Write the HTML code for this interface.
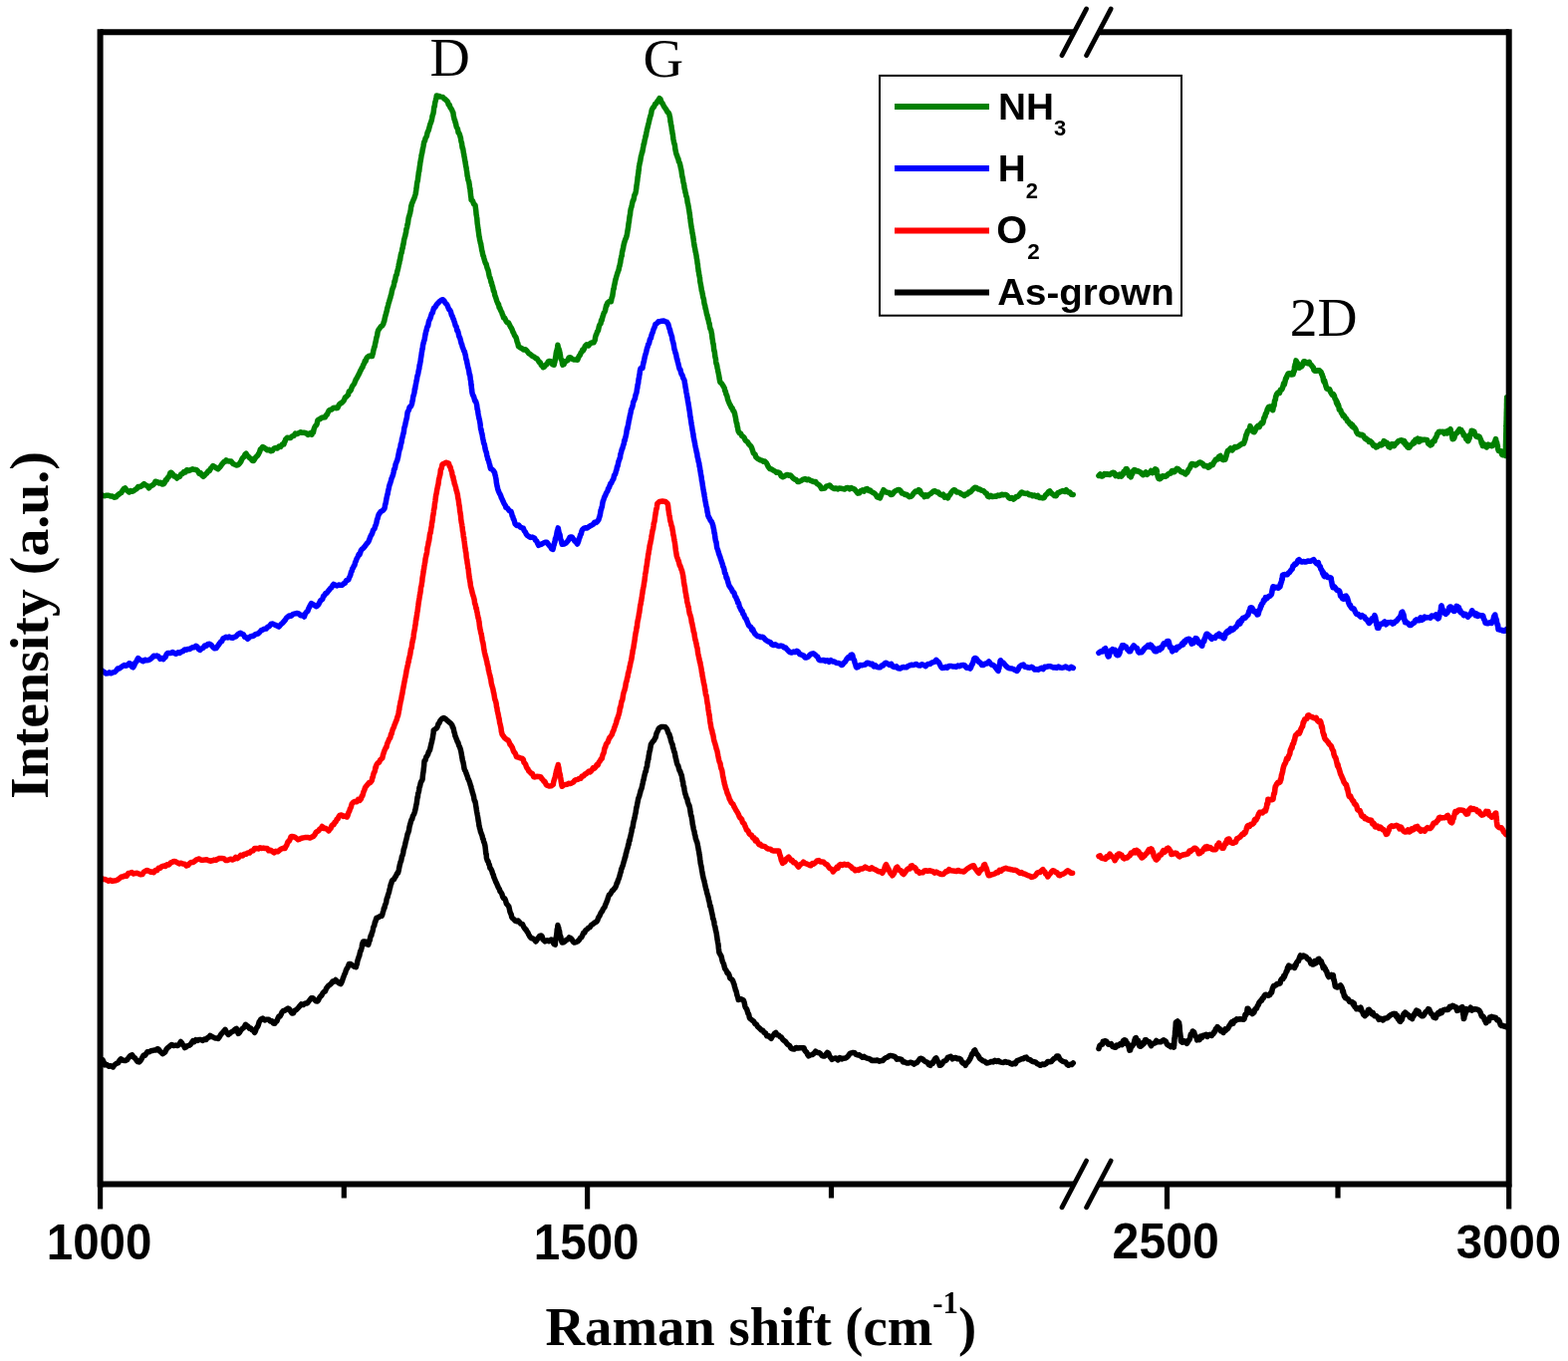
<!DOCTYPE html>
<html><head><meta charset="utf-8"><title>Raman spectra</title>
<style>html,body{margin:0;padding:0;background:#fff;}svg{display:block;}</style>
</head><body>
<svg width="1574" height="1366" viewBox="0 0 1574 1366"><rect width="1574" height="1366" fill="#ffffff"/><polyline points="101.6,496.5 103.5,497.6 105.3,497.7 107.2,497.2 109.0,497.2 110.9,498.0 112.8,498.1 114.6,499.2 116.5,498.9 117.8,497.2 119.1,496.2 120.4,495.2 121.7,494.6 123.0,492.4 124.3,490.6 125.6,489.8 127.0,491.8 128.3,492.9 129.7,494.0 131.2,492.6 132.7,493.2 134.2,492.6 135.7,491.4 137.1,490.7 138.6,488.6 140.1,488.7 141.6,488.2 143.1,486.9 144.6,485.7 146.2,487.0 147.9,487.6 149.5,489.8 150.8,488.3 152.1,487.4 153.5,486.7 154.8,485.5 156.1,483.2 157.8,483.6 159.4,485.0 161.1,484.2 162.7,485.9 164.4,485.7 165.3,484.4 166.2,481.8 167.2,481.9 168.1,479.7 169.0,479.2 170.0,477.4 170.9,474.5 171.8,474.2 173.2,475.6 174.7,477.9 176.2,478.0 177.6,480.0 179.0,478.4 180.4,478.4 181.8,475.8 183.3,475.4 184.7,473.5 186.1,473.9 187.5,471.7 189.5,472.4 191.5,471.6 193.4,470.8 195.4,471.3 197.4,471.7 198.7,473.0 200.0,475.3 201.4,474.8 202.7,477.1 204.0,478.3 205.2,477.4 206.5,475.7 207.7,474.9 208.9,473.0 210.2,472.6 211.4,470.4 212.7,469.0 213.9,467.5 215.6,468.5 217.2,469.9 218.9,470.8 220.1,469.3 221.2,468.4 222.4,466.5 223.6,465.0 224.8,463.7 225.9,463.3 227.1,461.8 228.8,462.8 230.4,463.1 232.1,463.0 233.7,465.2 235.4,466.1 237.0,466.9 238.7,466.7 239.7,466.0 240.8,464.7 241.8,463.3 242.8,461.0 243.9,459.3 244.9,458.5 246.0,456.1 247.0,455.2 248.2,457.1 249.5,458.4 250.7,459.8 251.9,460.3 253.2,462.4 254.4,462.6 255.4,461.2 256.4,459.4 257.4,458.3 258.4,457.4 259.5,455.7 260.5,453.8 261.5,450.7 262.5,450.3 263.5,448.5 265.1,449.3 266.8,450.5 268.4,451.8 270.1,451.3 271.7,452.7 273.4,452.4 275.0,450.2 276.7,449.6 278.4,450.0 280.0,448.1 281.7,448.4 283.3,446.0 285.0,446.0 285.5,443.6 286.1,443.2 286.6,441.1 288.3,439.3 289.9,439.6 291.6,439.5 293.2,437.9 294.9,437.4 296.5,435.1 298.2,435.6 299.8,434.8 301.5,433.7 303.4,434.3 305.3,434.3 307.2,434.7 309.2,436.4 311.1,434.8 313.0,436.2 313.7,433.5 314.5,433.9 315.2,430.5 315.9,428.8 316.7,427.3 317.4,426.9 318.1,425.6 318.9,421.9 319.6,421.3 321.3,420.5 323.0,419.2 324.6,418.9 326.3,418.8 327.3,416.7 328.3,416.2 329.2,414.0 330.2,412.2 331.2,411.4 332.9,411.0 334.5,409.5 336.1,409.2 337.8,409.7 339.0,409.3 340.3,406.2 341.5,405.1 342.8,404.5 344.0,403.3 345.2,402.0 346.5,398.9 347.7,398.2 348.6,397.1 349.5,396.2 350.4,392.7 351.4,392.5 352.3,391.3 353.2,388.7 354.1,387.0 355.0,386.0 355.8,384.6 356.6,382.6 357.5,380.4 358.3,379.4 359.1,377.6 359.9,376.3 360.8,374.5 361.6,372.4 362.4,371.2 363.2,369.3 363.9,368.8 364.7,366.0 365.5,365.1 366.3,362.3 367.1,362.4 367.8,359.9 368.6,358.7 370.3,357.3 371.9,357.4 373.6,357.5 374.0,355.2 374.4,355.0 374.8,352.0 375.3,350.1 375.7,348.5 376.1,348.0 376.5,345.6 376.9,343.8 377.3,342.3 377.7,339.9 378.1,338.2 378.6,337.0 379.0,333.8 379.4,332.5 379.8,331.4 381.1,329.5 382.3,327.7 383.6,327.0 384.8,325.1 385.2,323.2 385.7,322.6 386.1,320.2 386.6,318.2 387.0,316.5 387.4,315.4 387.9,313.1 388.3,312.0 388.8,309.0 389.2,308.2 389.7,306.1 390.1,304.2 390.5,303.3 391.0,301.5 391.4,300.0 391.9,298.7 392.3,296.5 392.8,295.6 393.2,293.1 393.7,290.9 394.1,289.6 394.6,288.6 395.1,287.1 395.5,285.2 396.0,282.1 396.5,282.2 396.9,279.7 397.4,276.7 397.9,276.4 398.3,275.3 398.8,272.3 399.2,271.2 399.7,269.1 400.1,267.0 400.4,265.0 400.8,264.4 401.2,261.0 401.6,261.1 401.9,258.7 402.3,256.0 402.7,254.3 403.1,253.8 403.4,252.5 403.8,249.5 404.2,249.3 404.6,245.6 404.9,245.5 405.3,242.8 405.7,240.3 406.1,239.0 406.4,237.7 406.8,236.7 407.2,234.3 407.6,233.3 407.9,230.0 408.3,229.1 408.7,227.6 409.0,225.2 409.4,224.6 409.8,221.5 410.1,219.2 410.5,217.5 410.8,217.1 411.2,215.1 411.6,214.2 411.9,212.4 412.3,210.6 412.7,206.9 413.0,206.7 413.4,204.4 414.0,203.2 414.7,201.4 415.3,199.9 415.9,198.7 416.6,196.5 417.2,194.5 417.5,192.5 417.7,191.2 418.0,188.7 418.2,187.9 418.5,184.9 418.7,183.5 419.0,182.2 419.3,181.5 419.5,179.6 419.8,177.1 420.0,176.0 420.3,173.0 420.6,171.6 420.8,171.7 421.1,168.5 421.3,167.0 421.6,165.6 421.8,163.4 422.1,162.1 422.4,160.2 422.8,157.9 423.1,155.7 423.5,154.2 423.8,153.1 424.2,150.3 424.5,149.2 424.9,147.3 425.2,145.6 425.6,143.1 425.9,142.2 426.5,141.4 427.1,138.7 427.7,137.8 428.4,136.4 429.0,133.3 429.6,131.9 430.2,130.7 430.8,128.5 431.3,126.6 431.8,124.6 432.2,123.9 432.7,122.5 433.2,120.9 433.7,118.5 434.1,116.2 434.6,114.8 434.9,114.1 435.3,111.7 435.6,108.7 435.9,107.0 436.3,106.8 436.6,103.6 437.0,101.8 437.3,100.9 437.6,99.5 438.0,97.6 438.3,96.0 440.4,96.4 442.4,97.1 444.5,97.4 445.8,99.0 447.0,99.7 448.2,100.9 449.5,102.4 450.3,105.1 451.2,105.2 452.0,108.0 452.8,108.9 453.7,110.4 454.5,112.4 454.9,113.1 455.3,116.5 455.7,117.8 456.1,119.9 456.6,120.6 457.0,122.7 457.4,123.2 457.8,125.4 458.2,127.3 458.8,128.3 459.5,129.6 460.1,133.2 460.7,133.3 461.4,134.8 462.0,137.2 462.4,138.3 462.7,140.4 463.1,142.6 463.5,143.4 463.9,147.0 464.2,148.8 464.6,148.7 465.0,151.0 465.3,153.3 465.7,154.7 466.0,157.3 466.3,158.1 466.6,160.8 466.8,161.2 467.1,163.3 467.4,165.0 467.7,167.1 468.0,167.8 468.3,170.4 468.5,171.3 468.8,173.3 469.1,176.4 469.4,177.1 469.8,179.7 470.1,181.3 470.5,181.4 470.8,183.4 471.2,185.4 471.5,188.4 471.9,189.5 472.1,192.1 472.3,193.4 472.5,195.6 472.7,197.6 472.9,197.9 473.1,200.7 474.4,201.5 475.6,204.8 476.9,205.7 477.1,206.5 477.4,208.7 477.6,210.1 477.8,211.8 478.1,215.4 478.3,216.1 478.5,217.5 478.8,219.2 479.0,222.1 479.2,224.6 479.4,225.4 479.7,228.0 479.9,228.9 480.1,230.9 480.4,232.9 480.6,234.3 480.9,236.8 481.3,238.5 481.6,240.8 482.0,242.1 482.3,244.2 482.7,244.5 483.0,247.0 483.4,249.0 483.7,251.3 484.1,252.4 484.4,254.2 484.9,256.5 485.4,257.3 485.9,259.4 486.5,261.6 487.0,263.1 487.5,264.5 488.0,264.7 488.5,266.8 489.1,269.1 489.6,270.2 490.1,271.5 490.6,274.1 491.1,276.6 491.6,278.5 492.0,278.8 492.5,280.8 493.0,283.4 493.5,283.5 493.9,286.5 494.4,287.1 494.9,289.1 495.4,292.1 495.8,292.1 496.3,293.8 496.8,296.5 497.4,297.9 498.0,299.7 498.7,302.1 499.3,303.4 499.9,304.9 500.5,305.3 501.1,308.8 501.8,309.1 502.4,311.1 503.0,312.3 503.6,313.1 504.3,315.6 504.9,316.5 505.5,318.9 506.7,319.4 508.0,322.2 509.2,323.7 510.5,324.0 511.7,326.4 512.5,328.1 513.3,329.2 514.1,330.8 514.9,333.2 515.6,334.1 516.4,336.5 517.2,337.5 518.0,338.8 518.5,340.5 519.0,342.6 519.4,343.7 519.9,344.9 520.4,347.5 522.2,348.9 523.9,349.8 525.7,351.1 527.4,350.7 529.2,352.5 530.6,354.5 532.0,355.3 533.4,356.6 534.9,357.6 536.3,358.3 537.7,359.6 539.1,360.0 540.1,361.5 541.2,363.5 542.2,363.7 543.2,366.4 544.3,367.1 545.3,368.7 546.5,368.0 547.8,366.1 549.0,365.6 550.3,362.8 551.5,362.5 553.1,362.7 554.6,365.9 556.2,366.2 556.5,364.4 556.9,363.5 557.2,361.8 557.5,359.3 557.9,357.3 558.2,354.7 558.6,352.6 558.9,352.4 559.2,350.8 559.6,348.7 559.9,346.3 560.3,348.4 560.7,349.4 561.1,350.8 561.6,352.1 562.0,354.4 562.4,356.4 562.8,358.8 563.2,360.5 563.6,361.0 564.1,362.0 564.5,365.1 564.9,366.2 566.1,365.5 567.4,362.7 568.6,362.3 569.9,361.6 571.1,358.9 572.4,358.7 574.2,360.2 576.1,361.0 577.9,361.1 579.8,361.2 580.6,358.8 581.5,357.2 582.3,356.3 583.1,354.1 584.0,353.3 584.8,351.0 585.6,351.6 586.5,349.7 587.3,347.5 589.0,345.8 590.8,346.9 592.5,344.6 594.3,343.9 596.0,343.8 596.6,342.5 597.2,341.4 597.7,338.0 598.3,336.1 598.9,335.2 599.5,332.8 600.1,332.4 600.6,331.3 601.2,328.2 601.8,326.3 602.4,325.2 603.0,324.9 603.5,321.4 604.1,321.6 604.7,318.9 605.3,316.9 605.8,315.5 606.4,313.5 606.9,313.2 607.5,311.6 608.0,309.3 608.6,306.6 609.1,306.7 609.7,304.0 611.5,302.5 613.4,302.8 613.7,301.3 614.1,298.6 614.4,298.6 614.8,297.0 615.1,295.0 615.5,292.2 615.8,290.3 616.2,289.8 616.5,287.0 616.9,285.6 617.2,284.1 617.7,281.4 618.2,279.8 618.7,277.8 619.2,276.2 619.7,274.5 620.1,273.5 620.6,272.0 621.1,270.7 621.6,267.7 622.1,266.7 622.4,264.7 622.8,263.4 623.1,260.4 623.5,259.3 623.8,257.4 624.2,256.8 624.5,253.1 624.9,252.0 625.2,250.2 625.6,249.1 625.9,246.8 626.4,244.6 627.0,242.6 627.5,241.0 628.0,239.6 628.5,238.9 629.1,236.7 629.6,234.3 629.9,232.0 630.1,230.9 630.4,229.4 630.7,227.8 630.9,225.3 631.2,223.4 631.5,222.4 631.7,219.9 632.0,217.7 632.2,216.4 632.5,215.7 632.8,212.2 633.0,211.1 633.3,209.4 633.8,208.0 634.3,205.9 634.8,203.5 635.3,201.3 635.8,201.1 636.3,199.2 636.8,196.1 637.3,195.0 637.8,194.3 638.3,192.0 638.5,190.6 638.8,188.7 639.0,186.1 639.2,185.6 639.5,183.4 639.7,182.1 639.9,180.6 640.1,177.7 640.4,177.2 640.6,174.4 640.8,174.2 641.1,170.6 641.3,170.6 641.5,167.0 641.8,165.8 642.0,164.6 642.4,162.9 642.8,161.3 643.1,159.2 643.5,156.8 643.9,155.4 644.3,153.7 644.7,153.0 645.0,151.6 645.4,149.1 645.8,147.2 646.2,144.5 646.6,144.4 647.0,141.6 647.3,140.0 647.7,138.7 648.1,136.3 648.5,136.1 648.9,132.7 649.3,131.5 649.6,129.5 650.0,128.3 650.4,126.7 650.8,124.8 651.2,123.4 651.6,121.6 652.0,119.6 652.4,118.5 652.9,116.3 653.3,115.5 653.7,113.8 654.1,111.1 654.5,109.9 655.6,108.0 656.6,107.0 657.7,104.3 658.8,103.9 659.9,101.6 660.9,100.5 662.0,98.7 663.0,99.6 664.0,102.6 664.9,103.6 665.9,105.6 666.9,107.4 667.9,108.7 668.9,110.3 669.9,112.3 670.9,112.9 671.9,114.8 672.2,116.9 672.5,117.3 672.8,119.5 673.0,122.2 673.3,122.4 673.6,125.4 673.9,125.8 674.2,128.5 674.5,131.2 674.7,131.0 675.0,133.8 675.3,134.5 675.6,137.2 675.9,139.7 676.2,141.0 676.5,142.9 676.9,144.4 677.2,144.7 677.5,146.5 677.8,149.5 678.1,150.9 678.7,153.8 679.2,155.3 679.8,156.7 680.3,158.6 680.9,159.3 681.4,162.3 682.0,163.0 682.5,164.4 683.1,167.1 683.4,168.8 683.8,170.3 684.1,171.8 684.4,174.2 684.8,177.0 685.1,177.8 685.5,179.6 685.8,182.0 686.1,183.4 686.5,184.4 686.8,187.0 687.2,189.6 687.6,190.4 687.9,192.9 688.3,193.7 688.7,196.4 689.1,197.2 689.5,198.6 689.8,200.3 690.2,203.6 690.6,204.4 690.9,206.4 691.1,207.0 691.4,209.5 691.7,210.9 691.9,212.4 692.2,214.4 692.5,215.9 692.7,218.9 693.0,219.7 693.2,222.4 693.5,224.2 693.8,226.2 694.0,227.5 694.3,229.3 694.6,230.6 694.9,233.6 695.2,234.3 695.5,236.2 695.8,238.4 696.1,239.9 696.4,242.6 696.7,244.4 696.9,246.1 697.2,247.8 697.5,248.8 697.8,250.4 698.1,252.6 698.4,253.3 698.7,255.2 699.0,256.4 699.3,259.2 699.6,260.2 699.8,261.5 700.1,264.7 700.4,265.2 700.6,268.4 700.9,269.8 701.1,272.2 701.4,272.6 701.7,275.5 701.9,276.2 702.2,277.6 702.5,278.8 702.7,282.2 703.0,283.7 703.2,284.4 703.5,286.4 703.8,287.8 704.0,288.9 704.3,291.6 704.7,292.3 705.1,294.7 705.4,296.1 705.8,298.5 706.2,299.5 706.6,301.2 706.9,304.0 707.3,305.8 707.7,306.6 708.1,309.5 708.4,309.9 708.8,311.8 709.2,313.9 709.6,316.0 710.0,316.2 710.5,319.9 710.9,319.6 711.3,322.1 711.7,324.4 712.1,324.6 712.5,327.9 713.0,330.0 713.4,330.5 713.8,331.4 714.2,333.9 714.5,334.8 714.7,336.6 715.0,339.8 715.3,340.8 715.6,343.7 715.8,344.4 716.1,345.4 716.4,347.9 716.6,350.4 716.9,352.3 717.2,352.4 717.5,354.5 717.7,356.9 718.0,358.7 718.4,359.7 718.7,363.1 719.0,365.0 719.4,365.4 719.8,367.4 720.1,369.5 720.5,370.7 720.8,373.0 721.1,374.0 721.5,376.0 721.9,378.1 722.2,380.3 722.5,381.9 722.9,383.6 724.2,384.7 725.4,386.3 726.7,388.6 727.2,389.4 727.8,392.5 728.3,392.7 728.9,395.7 729.4,396.3 730.0,398.1 730.5,400.7 731.1,402.2 731.6,403.5 732.5,405.7 733.3,406.9 734.2,409.3 735.0,409.4 735.9,412.2 736.7,412.8 737.6,415.3 738.0,417.6 738.3,418.5 738.7,421.0 739.0,422.8 739.4,424.5 739.8,425.2 740.1,428.3 740.5,428.8 740.8,431.2 741.2,432.9 742.4,434.7 743.5,435.1 744.7,437.4 745.9,438.1 747.0,439.2 748.2,442.0 749.4,442.9 750.6,443.8 751.7,445.8 752.9,447.0 753.7,447.6 754.6,449.5 755.4,451.8 756.3,454.7 757.1,455.4 758.0,456.1 758.8,458.7 760.3,460.1 761.8,461.0 763.3,461.8 764.9,462.2 766.4,463.3 767.9,463.1 769.4,464.6 770.3,466.6 771.1,468.2 772.0,469.6 772.9,470.5 774.5,470.9 776.2,472.1 777.8,472.9 779.5,474.2 781.1,474.0 782.7,474.7 784.2,477.9 785.8,478.7 787.4,478.0 788.9,476.9 790.5,476.4 792.0,477.2 793.5,477.1 794.9,478.4 796.4,480.2 797.9,481.1 799.3,481.6 800.8,483.5 802.3,483.4 804.3,482.4 806.2,481.1 808.2,480.6 810.0,481.8 811.7,481.0 813.5,482.2 815.2,482.9 817.0,483.6 818.7,483.4 819.9,485.4 821.1,486.0 822.2,486.7 823.4,488.1 824.6,490.5 826.2,490.3 827.9,490.1 829.5,488.1 831.2,487.6 832.8,487.0 834.4,488.7 835.9,489.7 837.5,490.5 839.2,490.0 840.9,490.9 842.6,490.1 844.3,490.2 846.0,490.6 847.8,491.0 849.5,489.7 851.2,489.4 852.9,490.8 854.6,489.5 856.3,490.5 857.9,491.1 859.4,493.0 861.0,495.2 862.6,494.8 864.1,492.7 865.7,491.9 867.3,493.1 868.8,491.1 870.4,490.5 871.8,492.4 873.3,492.0 874.7,493.5 876.2,494.4 877.6,495.0 879.1,496.4 880.5,498.9 882.0,499.4 883.4,499.9 884.1,498.0 884.8,496.4 885.5,494.5 886.2,493.4 886.9,491.7 888.3,493.2 889.7,494.0 891.2,494.4 892.6,494.5 894.0,496.4 895.8,496.2 897.5,493.8 899.2,492.6 901.0,491.7 902.5,491.5 904.0,492.7 905.4,495.1 906.9,495.2 908.4,496.6 909.8,496.2 911.3,497.5 912.8,498.7 914.4,498.3 915.9,497.1 917.5,494.6 919.1,493.0 920.6,493.5 922.2,491.7 923.4,492.4 924.5,495.1 925.7,496.3 926.8,496.6 928.0,498.7 929.5,496.9 931.0,498.0 932.5,496.4 934.1,495.6 935.6,494.4 937.1,492.9 938.6,492.8 940.2,493.9 941.8,494.0 943.4,496.1 945.0,496.9 946.7,496.2 948.3,499.1 949.9,498.0 951.5,499.9 952.7,497.4 953.9,496.2 955.0,494.2 956.2,492.8 957.4,491.7 958.9,492.2 960.4,493.9 961.9,494.0 963.5,494.5 965.0,495.8 966.5,496.4 968.0,497.5 969.5,495.9 971.0,496.0 972.5,494.1 974.1,493.9 975.6,492.2 977.1,490.6 978.6,489.3 980.2,489.4 981.9,491.0 983.5,491.1 985.2,492.3 986.8,492.4 988.0,493.4 989.2,494.9 990.3,495.1 991.5,498.0 992.7,498.7 994.5,497.4 996.3,498.6 998.2,498.1 1000.0,498.3 1001.8,497.0 1003.6,497.6 1005.5,496.3 1007.3,496.7 1009.1,496.4 1010.8,497.0 1012.4,499.3 1014.1,500.3 1015.7,499.5 1017.4,501.1 1018.8,500.1 1020.1,498.4 1021.5,498.6 1022.9,497.3 1024.2,495.4 1025.6,494.0 1027.5,495.0 1029.4,495.4 1031.2,495.1 1033.1,496.8 1035.0,496.4 1036.7,497.8 1038.4,497.0 1040.1,498.4 1041.7,497.3 1043.4,499.6 1045.1,499.5 1046.8,499.9 1048.2,499.5 1049.6,496.8 1051.0,495.9 1052.4,493.8 1053.8,492.8 1055.4,495.0 1056.9,496.2 1058.5,497.5 1060.2,497.7 1061.9,494.7 1063.6,494.2 1065.2,493.2 1066.9,492.5 1068.6,493.5 1070.3,491.7 1072.0,493.9 1073.8,494.0 1075.5,496.2 1077.3,496.4" fill="none" stroke="#008000" stroke-width="5.5" stroke-linejoin="round" stroke-linecap="round"/><polyline points="1103.0,477.4 1104.4,476.0 1105.8,478.0 1107.2,477.5 1108.6,475.6 1109.9,476.2 1111.3,475.8 1112.7,476.2 1114.1,476.4 1115.5,475.2 1117.0,474.3 1118.4,474.5 1119.9,477.5 1121.3,476.6 1122.8,478.1 1124.2,476.1 1125.7,478.1 1126.4,476.7 1127.2,476.4 1127.9,473.6 1128.6,474.7 1129.4,473.3 1130.1,470.8 1130.9,470.6 1131.8,471.9 1132.7,474.9 1133.5,477.5 1134.3,477.1 1135.2,478.8 1135.9,476.4 1136.6,475.6 1137.4,472.9 1138.1,472.1 1138.8,471.5 1140.1,472.0 1141.3,472.9 1142.6,472.8 1143.8,473.6 1145.1,474.2 1146.3,475.7 1147.6,476.6 1148.9,475.4 1150.2,474.0 1151.6,476.2 1152.9,474.7 1154.2,474.5 1155.5,472.5 1156.8,474.6 1158.2,473.7 1159.5,470.8 1160.8,471.5 1161.2,472.4 1161.5,475.1 1161.9,476.6 1162.3,478.8 1162.6,478.6 1163.0,480.3 1164.4,480.7 1165.7,479.6 1167.1,477.8 1168.5,478.0 1169.8,478.3 1171.2,477.6 1172.5,475.9 1173.9,475.2 1175.2,474.9 1176.4,472.5 1177.7,472.5 1178.9,473.6 1180.2,471.8 1181.4,470.4 1182.7,470.8 1183.9,471.8 1185.1,473.1 1186.3,473.9 1187.6,473.8 1188.8,474.9 1190.0,475.9 1190.9,474.7 1191.8,474.2 1192.7,472.1 1193.7,470.5 1194.6,469.5 1195.5,466.7 1196.4,465.5 1197.3,465.7 1198.8,466.2 1200.2,467.0 1201.7,465.6 1203.2,464.8 1204.6,464.0 1206.1,464.9 1207.4,465.5 1208.8,467.7 1210.1,467.6 1211.4,467.5 1212.8,469.1 1214.1,468.6 1215.2,466.6 1216.2,466.4 1217.3,466.6 1218.3,464.3 1219.4,462.8 1220.4,461.1 1221.5,460.8 1222.5,461.0 1223.6,458.4 1225.0,457.5 1226.5,460.8 1228.0,461.6 1229.4,461.3 1229.9,461.1 1230.4,459.1 1230.9,457.9 1231.4,455.5 1231.9,454.2 1232.4,452.5 1233.9,451.7 1235.3,449.9 1236.8,451.9 1238.2,450.3 1239.6,448.5 1241.1,448.9 1242.6,448.2 1244.0,447.4 1245.5,446.2 1246.9,445.4 1248.4,445.2 1248.9,443.9 1249.4,442.7 1249.9,441.2 1250.4,439.2 1250.9,436.4 1251.4,436.4 1252.0,434.1 1252.6,432.5 1253.2,432.3 1253.8,431.8 1254.4,430.1 1255.0,427.7 1255.7,430.1 1256.5,431.6 1257.2,431.3 1257.9,433.5 1259.0,433.6 1260.0,432.1 1261.1,429.3 1262.1,428.1 1263.2,427.1 1264.2,428.5 1265.3,425.9 1266.3,424.5 1267.4,424.8 1267.9,423.9 1268.4,421.6 1268.9,419.4 1269.4,418.3 1269.9,418.2 1270.3,415.7 1270.8,414.7 1271.3,414.7 1271.8,412.6 1272.3,410.8 1272.8,410.0 1273.3,408.7 1274.8,408.1 1276.2,410.3 1277.7,411.6 1278.0,409.9 1278.3,407.7 1278.7,406.0 1279.0,407.1 1279.3,404.4 1279.6,401.9 1280.0,401.7 1280.3,401.0 1280.6,398.5 1281.6,395.7 1282.5,394.5 1283.5,393.7 1284.5,394.3 1285.4,391.2 1286.4,391.1 1287.0,390.4 1287.5,389.0 1288.1,387.2 1288.6,384.9 1289.2,386.0 1289.7,384.1 1290.2,381.8 1290.8,379.5 1291.3,379.6 1291.9,377.4 1292.5,376.7 1293.0,375.1 1294.7,374.8 1296.4,376.0 1298.1,375.8 1298.4,373.0 1298.7,372.4 1299.0,373.1 1299.3,371.4 1299.5,368.2 1299.8,368.6 1300.1,365.5 1300.4,366.1 1300.7,364.1 1301.0,361.9 1301.6,363.1 1302.2,364.0 1302.8,364.7 1303.4,369.0 1304.0,369.2 1305.0,366.6 1305.9,368.1 1306.9,367.4 1307.9,365.1 1308.8,362.7 1309.8,362.7 1311.3,364.1 1312.7,364.7 1314.2,363.4 1315.0,365.3 1315.8,365.9 1316.6,366.7 1317.4,367.9 1318.2,368.7 1319.0,371.4 1319.8,372.1 1321.4,372.2 1322.9,371.8 1324.5,371.9 1326.1,373.5 1326.6,375.4 1327.1,375.6 1327.6,377.7 1328.1,378.5 1328.5,381.7 1329.0,383.2 1329.5,381.8 1330.0,383.7 1330.5,385.5 1331.0,387.5 1331.9,390.1 1332.9,390.6 1333.8,390.3 1334.7,390.9 1335.7,393.5 1336.6,395.1 1337.5,396.5 1338.5,395.7 1339.4,397.3 1340.0,399.9 1340.5,400.7 1341.1,401.5 1341.6,404.5 1342.2,403.5 1342.7,406.4 1343.2,405.8 1343.8,407.4 1344.4,411.2 1344.9,411.3 1345.7,411.6 1346.5,414.5 1347.3,415.2 1348.1,417.2 1348.9,416.9 1349.7,418.0 1350.5,419.7 1351.6,420.2 1352.7,423.1 1353.9,423.4 1355.0,425.6 1356.1,425.3 1356.9,427.7 1357.7,426.5 1358.5,429.0 1359.3,428.8 1360.1,429.8 1360.9,431.0 1361.7,433.6 1363.1,435.5 1364.5,435.9 1365.9,436.8 1367.3,436.4 1368.3,436.9 1369.3,438.8 1370.3,440.3 1371.3,440.0 1372.3,441.6 1373.3,441.5 1374.3,443.4 1375.7,442.9 1377.1,444.3 1378.5,447.1 1379.9,446.9 1381.3,448.8 1382.7,448.3 1384.0,447.3 1385.3,446.0 1386.6,446.8 1387.8,446.1 1389.1,442.7 1390.4,443.4 1391.3,445.2 1392.2,444.5 1393.0,445.8 1393.9,448.3 1395.3,449.0 1396.7,445.7 1398.0,445.8 1399.4,447.6 1400.8,445.5 1402.2,444.5 1403.6,442.9 1405.0,442.3 1406.4,441.9 1407.8,442.0 1408.8,443.8 1409.8,442.7 1410.8,446.3 1411.8,445.6 1412.8,448.5 1413.8,449.3 1414.8,449.0 1415.8,447.3 1416.8,446.2 1417.8,445.9 1418.8,443.7 1419.8,444.5 1420.8,441.5 1421.8,442.0 1423.2,440.3 1424.6,443.3 1426.0,441.0 1427.4,441.8 1428.8,441.3 1430.2,441.3 1431.4,441.5 1432.5,441.5 1433.7,445.1 1434.9,446.1 1436.0,446.9 1437.2,446.2 1437.9,443.7 1438.6,442.8 1439.3,442.8 1440.0,442.7 1440.7,440.0 1441.4,439.2 1442.1,437.9 1442.8,435.3 1443.5,435.0 1444.2,433.6 1445.6,433.3 1447.0,433.5 1448.4,433.3 1449.8,435.0 1451.0,433.5 1452.3,434.9 1453.5,432.3 1454.8,432.1 1456.0,430.8 1456.3,432.7 1456.6,435.0 1456.9,434.6 1457.2,435.8 1457.5,437.2 1457.8,438.6 1458.1,440.6 1459.0,440.5 1459.8,439.4 1460.7,436.3 1461.6,435.2 1462.5,434.6 1463.3,433.5 1464.2,432.3 1465.1,430.8 1465.9,431.2 1466.8,431.6 1467.6,433.6 1468.5,434.2 1469.3,436.9 1470.1,436.6 1471.0,437.8 1471.8,440.8 1472.7,440.8 1473.5,442.7 1474.0,442.3 1474.5,440.1 1475.1,439.9 1475.6,436.3 1476.1,436.1 1476.7,435.8 1477.2,432.2 1477.7,432.2 1478.8,434.7 1479.8,433.3 1480.8,436.2 1481.9,438.0 1483.0,438.5 1484.0,437.9 1485.0,438.3 1486.1,440.6 1486.7,442.0 1487.2,444.7 1487.8,444.1 1488.3,447.5 1488.9,447.6 1490.6,446.5 1492.3,448.9 1493.9,446.1 1495.6,447.0 1497.3,447.6 1498.1,447.5 1499.0,445.8 1499.8,444.7 1500.7,443.1 1501.5,440.6 1501.8,442.9 1502.2,444.2 1502.5,444.0 1502.9,446.3 1503.2,446.9 1503.6,450.2 1504.0,451.5 1504.3,452.5 1505.5,452.5 1506.6,452.7 1507.8,456.4 1509.0,456.8 1510.1,456.7 1511.3,457.4 1511.3,456.1 1511.4,455.7 1511.4,453.0 1511.4,451.3 1511.5,449.7 1511.5,448.0 1511.5,445.9 1511.6,446.4 1511.6,444.2 1511.6,443.3 1511.7,440.3 1511.7,439.8 1511.7,437.6 1511.8,436.2 1511.8,435.2 1511.8,435.5 1511.9,432.7 1511.9,431.3 1511.9,430.6 1512.0,427.9 1512.0,425.8 1512.1,426.0 1512.1,424.5 1512.1,423.5 1512.2,421.4 1512.2,420.8 1512.2,419.5 1512.3,416.5 1512.3,415.9 1512.3,414.4 1512.4,412.1 1512.4,411.3 1512.4,410.3 1512.5,410.0 1512.5,408.6 1512.5,405.1 1512.6,404.9 1512.6,401.5 1512.6,400.2 1512.7,400.2 1512.7,398.7" fill="none" stroke="#008000" stroke-width="5.6" stroke-linejoin="round" stroke-linecap="round"/><polyline points="102.1,672.8 103.5,674.0 104.8,674.7 106.2,675.9 108.0,675.8 109.8,674.8 111.5,675.8 113.3,674.9 114.9,674.6 116.5,673.2 118.2,671.1 119.8,670.9 121.4,669.8 123.0,668.6 124.7,667.6 126.3,668.3 128.0,667.6 129.6,665.7 130.9,666.1 132.3,669.2 133.6,669.8 134.4,668.5 135.3,666.5 136.1,664.7 137.0,664.1 137.8,662.0 138.7,660.6 140.4,662.0 142.1,663.0 143.8,663.7 145.5,662.2 147.3,662.8 149.0,662.6 150.8,661.8 152.5,660.3 154.3,658.3 156.0,658.6 157.6,658.1 159.2,659.0 160.9,661.4 162.5,660.6 164.1,661.6 165.1,659.8 166.1,659.4 167.2,656.6 168.2,655.5 169.9,655.6 171.7,655.4 173.4,654.5 175.2,655.7 176.9,656.3 178.7,654.7 180.4,655.5 182.0,654.1 183.6,653.7 185.3,652.1 186.9,652.3 188.5,651.5 190.1,651.6 191.7,650.6 193.4,649.7 195.0,649.8 196.6,648.4 198.0,649.0 199.3,651.3 200.7,652.5 202.3,651.0 203.9,650.3 205.6,648.0 207.2,648.2 208.8,646.4 210.4,646.3 212.1,647.3 213.7,649.5 215.4,650.7 217.0,650.5 218.2,648.9 219.3,647.4 220.5,645.6 221.6,644.2 222.8,643.5 223.9,641.0 225.1,640.3 226.8,639.3 228.5,639.9 230.2,639.1 231.9,640.0 233.6,640.2 235.3,639.3 236.8,638.9 238.4,637.2 239.9,635.9 241.4,635.2 242.8,636.3 244.2,636.6 245.7,639.3 247.1,639.7 248.5,641.3 250.0,640.1 251.5,638.7 253.1,638.6 254.6,638.1 256.1,636.8 257.6,636.2 259.1,636.0 260.6,634.6 262.2,632.6 263.7,632.2 265.4,631.2 267.1,631.1 268.8,629.2 270.5,628.4 272.2,626.2 273.9,626.1 275.9,627.1 278.0,628.0 280.0,629.1 281.3,627.5 282.6,626.1 283.8,625.1 285.1,623.6 286.4,622.1 287.6,620.0 288.9,619.2 290.2,617.9 292.2,618.3 294.3,616.4 296.3,615.9 298.1,615.5 299.9,616.0 301.8,617.8 303.6,617.4 305.4,619.0 306.3,616.4 307.2,614.8 308.1,613.9 308.9,613.4 309.8,610.7 310.7,608.9 311.6,607.2 312.5,605.7 314.2,606.7 315.9,607.7 317.6,608.8 318.6,607.9 319.6,606.9 320.6,605.0 321.6,603.0 322.7,602.1 323.7,601.3 324.7,598.2 325.7,597.6 326.8,595.6 328.0,595.1 329.1,593.8 330.3,592.3 331.4,590.8 332.6,589.9 333.8,587.8 334.9,586.4 336.7,587.3 338.4,587.9 340.2,587.0 342.0,587.4 343.4,587.2 344.8,585.9 346.3,585.3 347.7,582.4 349.1,582.4 349.8,581.7 350.5,579.8 351.1,578.7 351.8,577.1 352.5,574.0 353.2,573.2 353.8,570.5 354.5,569.9 355.2,568.1 355.9,567.5 356.6,564.3 357.3,563.1 358.0,560.9 358.8,559.6 359.5,558.1 360.2,556.3 360.9,556.7 361.6,554.9 362.3,552.5 363.5,551.1 364.7,550.3 365.9,548.8 367.1,547.1 368.3,545.5 369.5,544.3 370.2,543.0 370.9,541.1 371.7,538.9 372.4,537.4 373.1,536.4 373.8,534.7 374.5,532.2 375.3,531.4 376.0,530.4 376.7,527.9 377.3,526.9 377.9,524.7 378.5,521.6 379.0,520.6 379.6,518.1 380.2,516.3 380.8,515.5 382.1,513.7 383.4,512.9 384.6,512.2 385.9,510.4 386.3,509.0 386.6,506.6 387.0,505.8 387.4,503.7 387.7,502.0 388.1,499.8 388.4,498.5 388.8,496.6 389.2,495.7 389.5,493.5 389.9,491.7 390.3,490.1 390.6,488.4 391.0,486.8 391.5,485.6 392.0,484.0 392.5,482.5 393.1,479.9 393.6,479.1 394.1,477.8 394.6,476.2 395.1,474.0 395.6,470.9 396.1,470.9 396.6,469.3 397.1,465.8 397.7,464.8 398.2,463.1 398.7,462.4 399.2,460.2 399.6,458.7 400.0,456.2 400.4,454.3 400.8,452.5 401.2,450.6 401.6,450.4 401.9,449.0 402.3,445.7 402.7,445.1 403.1,443.8 403.5,440.4 403.9,439.5 404.3,437.6 404.7,435.7 405.0,435.1 405.4,433.1 405.8,429.5 406.2,428.2 406.5,427.8 406.9,425.5 407.3,423.6 407.6,422.5 408.0,420.6 408.4,419.3 408.8,416.1 409.1,413.8 409.5,413.0 410.3,411.8 411.1,408.7 412.0,408.2 412.8,407.2 413.6,404.8 413.9,402.9 414.3,401.6 414.6,399.0 415.0,397.2 415.3,396.5 415.6,395.4 416.0,393.9 416.3,390.1 416.7,390.4 417.0,387.7 417.4,385.7 417.7,384.3 418.0,382.4 418.4,381.1 418.7,378.8 419.1,376.7 419.4,376.6 419.8,374.5 420.1,372.6 420.4,371.1 420.8,370.0 421.1,366.5 421.5,366.2 421.8,363.8 422.1,362.7 422.4,359.8 422.7,358.4 423.0,356.3 423.3,353.9 423.6,352.6 423.9,350.2 424.2,350.0 424.5,346.6 424.8,345.4 425.2,344.0 425.6,342.2 426.0,341.4 426.4,339.3 426.8,336.7 427.2,335.0 427.6,332.6 428.0,331.9 428.6,329.0 429.1,327.7 429.7,327.2 430.3,323.3 430.8,321.7 431.4,320.5 432.1,319.0 432.8,316.5 433.5,314.3 434.2,314.1 434.9,311.3 435.8,308.8 436.8,308.5 437.8,306.6 438.7,305.2 440.2,303.7 441.6,302.3 443.1,301.1 444.6,300.7 445.9,302.0 447.1,304.3 448.4,305.2 449.2,306.7 450.0,308.9 450.8,310.6 451.6,311.3 452.4,312.6 453.3,316.2 454.1,317.4 454.7,319.3 455.4,320.7 456.0,322.6 456.6,324.3 457.1,326.8 457.7,327.3 458.2,328.3 458.8,331.8 459.3,331.6 459.9,333.2 460.4,335.7 460.9,337.8 461.5,338.6 462.0,340.2 462.6,342.7 463.1,344.9 463.6,345.3 464.2,348.2 464.7,349.2 465.3,350.9 465.8,352.4 466.4,352.9 466.9,355.6 467.3,356.6 467.7,359.5 468.1,361.2 468.5,361.7 468.9,364.6 469.3,366.0 469.6,367.9 470.0,369.3 470.4,370.6 470.8,372.7 471.2,375.8 471.6,375.8 472.0,378.2 472.2,380.8 472.5,381.9 472.7,382.7 472.9,386.2 473.2,386.2 473.4,389.9 473.6,390.6 473.9,393.7 474.1,394.6 474.8,396.8 475.5,397.7 476.1,400.0 476.8,402.5 477.5,402.4 478.2,404.8 478.5,405.8 478.8,407.7 479.1,410.6 479.4,411.0 479.7,412.7 480.0,415.2 480.3,416.8 480.6,418.1 480.9,420.1 481.2,420.7 481.5,422.3 481.8,424.0 482.1,425.8 482.4,429.0 482.7,431.2 483.0,431.0 483.3,433.5 483.7,434.9 484.0,435.8 484.4,438.4 484.8,440.6 485.2,442.2 485.5,444.5 485.9,445.4 486.3,446.0 486.7,448.4 487.0,450.2 487.4,452.0 487.9,453.3 488.3,454.3 488.8,457.3 489.3,458.7 489.7,460.8 490.2,461.7 490.6,462.8 491.1,464.9 491.6,466.3 492.0,468.6 492.5,470.4 493.9,471.0 495.2,472.2 496.6,474.5 496.9,476.4 497.3,477.4 497.6,479.1 498.0,481.0 498.3,484.1 498.7,486.1 499.0,487.9 499.4,489.2 499.7,490.9 500.4,492.9 501.2,494.8 501.9,495.8 502.7,497.6 503.4,499.8 504.2,501.3 504.9,502.9 505.7,504.7 506.4,506.1 507.2,507.1 507.9,509.4 509.6,510.3 511.3,512.6 513.0,513.5 513.6,515.1 514.2,517.8 514.8,518.5 515.3,520.9 515.9,521.4 516.5,523.6 517.1,525.8 518.9,527.6 520.7,527.1 522.5,529.2 524.3,529.9 525.3,530.2 526.3,532.9 527.3,533.9 528.4,536.2 529.4,537.4 530.4,538.1 532.5,539.4 534.5,539.1 536.6,540.2 537.6,542.3 538.7,543.0 539.7,545.5 540.7,547.3 542.3,546.5 544.0,546.0 545.6,545.0 547.3,544.3 548.9,544.3 550.1,545.8 551.3,547.5 552.6,548.7 553.8,551.0 555.0,551.4 555.4,549.9 555.8,547.3 556.2,546.8 556.6,544.4 557.0,544.1 557.4,540.7 557.8,539.7 558.2,538.6 558.6,537.5 559.0,534.9 559.4,532.9 559.8,532.2 560.2,529.9 560.7,532.4 561.1,534.5 561.6,535.9 562.0,536.4 562.5,540.1 562.9,541.8 563.4,542.5 563.8,544.8 564.3,546.3 566.2,546.0 567.6,545.3 569.0,544.1 570.5,542.2 571.9,539.4 573.3,538.9 574.5,539.4 575.8,541.4 577.0,543.1 578.3,544.2 579.5,546.0 580.1,544.8 580.8,543.0 581.4,540.4 582.0,539.3 582.7,536.4 583.3,536.3 584.0,532.9 584.6,531.7 586.2,530.1 587.9,529.8 589.5,530.0 591.2,528.6 592.8,527.6 594.2,527.0 595.5,526.2 596.9,524.2 598.3,524.5 599.6,523.5 601.0,521.4 601.4,519.8 601.9,518.5 602.3,517.1 602.7,514.8 603.1,512.0 603.5,511.5 604.0,509.3 604.4,508.5 604.8,505.4 605.2,503.2 605.7,501.9 606.1,500.9 606.9,498.5 607.6,497.4 608.4,495.3 609.1,494.0 609.9,492.9 610.6,490.3 611.4,489.4 612.1,487.5 612.9,485.1 613.6,484.9 614.4,482.9 615.1,481.8 615.9,480.4 616.6,476.9 617.4,476.3 617.9,475.0 618.4,472.6 618.9,471.8 619.5,468.3 620.0,468.1 620.5,465.4 621.0,462.9 621.5,462.0 622.0,460.2 622.5,459.4 622.9,455.8 623.4,454.8 623.9,452.4 624.4,450.5 624.8,450.5 625.3,448.2 625.8,446.5 626.3,445.5 626.7,442.0 627.2,442.1 627.7,439.4 628.1,438.3 628.4,436.8 628.8,435.0 629.1,432.4 629.5,429.9 629.9,430.4 630.2,427.9 630.6,426.4 630.9,424.6 631.3,422.1 631.6,421.2 632.0,419.0 632.4,416.9 632.7,415.8 633.1,414.0 633.4,412.0 633.8,410.7 634.3,409.6 634.8,408.3 635.3,406.0 635.8,403.1 636.3,402.6 636.9,401.1 637.4,399.9 637.9,397.1 638.4,395.4 638.9,394.3 639.2,392.3 639.5,390.0 639.8,389.6 640.1,386.2 640.4,385.7 640.7,384.5 641.0,381.0 641.2,379.5 641.5,379.6 641.8,376.3 642.1,375.6 642.4,372.2 642.7,371.4 643.0,369.7 645.0,369.5 645.3,366.8 645.7,365.6 646.0,363.4 646.4,363.2 646.7,361.0 647.1,359.1 647.4,357.7 648.0,355.6 648.5,354.3 649.1,351.4 649.6,349.3 650.2,348.1 650.7,345.5 651.3,345.2 651.8,343.6 652.3,341.0 652.8,340.0 653.4,339.4 653.9,336.7 654.6,334.8 655.2,333.6 655.9,330.8 656.6,329.3 657.2,328.0 657.9,325.5 659.5,324.6 661.0,322.8 662.7,322.7 664.4,322.2 666.2,322.0 668.0,322.8 669.4,323.2 670.8,325.5 671.3,327.3 671.9,329.7 672.5,330.8 673.0,333.5 673.5,334.8 674.1,336.7 674.5,337.7 674.9,340.7 675.4,342.5 675.8,343.9 676.2,345.5 676.6,348.1 677.1,351.1 677.6,352.1 678.0,354.4 678.5,354.8 679.0,357.7 679.4,359.9 679.8,360.4 680.2,362.8 680.7,364.3 681.1,366.0 681.5,368.0 682.2,370.4 682.9,370.8 683.6,374.2 684.3,375.8 685.0,376.7 685.7,379.3 686.4,380.4 687.1,382.0 687.4,384.7 687.7,385.5 688.0,388.3 688.3,389.6 688.6,391.1 688.9,393.6 689.2,394.7 689.4,395.5 689.7,398.1 690.0,398.8 690.3,401.1 690.6,403.5 690.9,404.2 691.2,406.6 691.5,408.2 691.7,409.5 692.0,411.6 692.3,412.9 692.6,415.7 692.8,417.7 693.1,418.6 693.4,420.9 693.7,422.7 693.9,424.5 694.2,426.3 694.5,427.7 694.8,429.6 695.0,431.3 695.3,432.5 695.6,434.9 695.9,435.3 696.1,438.2 696.4,439.4 696.8,441.5 697.1,443.0 697.5,444.9 697.9,447.3 698.2,448.8 698.6,450.4 699.0,452.6 699.3,454.3 699.7,454.8 700.0,457.8 700.4,459.6 700.8,460.7 701.1,463.2 701.5,464.0 701.8,465.0 702.1,468.2 702.4,468.7 702.7,470.8 703.0,472.8 703.3,474.4 703.5,476.3 703.8,477.2 704.1,478.8 704.4,482.1 704.7,482.8 705.0,484.6 705.3,487.3 705.6,488.6 705.9,490.9 706.2,492.1 706.5,494.4 706.8,495.0 707.1,497.9 707.4,499.0 707.7,501.2 708.0,502.8 708.3,504.2 708.6,506.4 708.9,507.7 709.2,508.7 709.5,509.7 709.8,512.0 710.1,514.2 710.4,514.6 710.7,517.3 711.6,519.2 712.4,520.5 713.2,522.4 714.1,523.2 714.9,525.0 715.8,527.6 716.1,529.7 716.4,530.6 716.7,532.1 717.1,535.4 717.4,535.3 717.7,538.5 718.0,540.5 718.3,542.4 718.6,543.6 719.0,544.0 719.3,546.6 719.6,549.3 719.9,550.2 720.5,551.8 721.1,553.8 721.7,556.0 722.2,557.4 722.8,558.7 723.4,560.9 724.0,562.5 724.6,564.5 725.3,566.3 725.9,568.8 726.4,569.6 727.0,571.7 727.5,575.0 728.0,575.2 728.6,577.0 729.1,580.1 729.7,579.9 730.2,581.9 730.7,583.9 731.3,585.8 731.8,587.6 732.7,588.9 733.5,590.1 734.4,591.3 735.3,593.6 736.2,594.2 737.0,595.4 737.9,598.5 738.8,599.4 739.5,601.7 740.1,602.4 740.8,605.3 741.5,605.3 742.2,608.6 742.8,609.8 743.5,611.1 744.3,613.0 745.1,613.2 745.9,616.4 746.7,616.6 747.4,619.0 748.2,620.6 749.0,621.1 749.8,623.2 750.6,625.2 751.6,627.6 752.6,628.7 753.7,629.2 754.7,632.1 755.7,631.6 756.8,634.4 757.8,636.2 758.8,637.0 760.4,638.5 762.1,638.7 763.7,639.6 765.4,639.2 767.0,640.5 768.6,642.3 770.1,643.3 771.7,644.2 773.3,644.7 774.8,646.8 776.4,647.6 778.3,646.8 780.2,648.0 782.0,648.6 783.9,648.1 785.8,648.7 787.2,650.1 788.6,650.1 790.1,651.9 791.5,653.4 792.9,654.6 794.6,655.0 796.4,654.1 798.1,654.6 799.9,653.4 801.3,654.2 802.7,656.5 804.0,656.9 805.4,657.7 806.8,658.2 808.2,660.0 809.8,659.9 811.5,659.0 813.1,657.2 814.8,656.2 816.4,655.8 817.8,656.7 819.2,658.2 820.6,659.1 822.0,662.2 823.4,662.8 825.2,662.8 826.9,662.4 828.7,663.6 830.5,662.7 832.2,664.4 834.0,662.6 835.7,664.0 837.5,664.0 839.3,665.2 841.0,665.4 842.8,665.9 844.6,667.5 845.9,667.1 847.2,665.1 848.6,664.0 849.9,661.5 851.2,659.9 852.6,660.5 853.9,657.6 855.2,657.0 855.8,657.6 856.4,660.8 857.0,662.0 857.5,662.4 858.1,665.2 858.7,666.7 859.3,669.2 859.9,669.9 861.6,669.3 863.4,667.6 865.1,667.8 866.9,667.4 868.6,667.0 870.4,665.2 872.1,665.5 873.8,666.7 875.5,666.2 877.1,668.9 878.8,667.8 880.5,669.6 882.2,669.9 883.6,669.7 885.0,668.0 886.5,668.1 887.9,665.9 889.3,665.2 891.1,666.1 892.8,667.5 894.6,666.3 896.3,668.9 898.1,669.6 899.9,668.9 901.6,670.8 903.4,671.1 905.0,670.1 906.7,669.5 908.3,669.7 910.0,669.7 911.6,668.5 913.2,667.9 914.9,667.2 916.5,667.5 918.2,667.1 919.8,666.4 921.7,667.7 923.6,668.1 925.4,666.7 927.3,667.5 929.2,668.7 930.7,667.0 932.2,666.4 933.7,666.5 935.3,665.1 936.8,664.7 938.3,664.1 939.8,662.4 941.0,663.7 942.2,664.5 943.3,666.6 944.5,669.1 945.7,670.4 947.5,670.3 949.2,669.3 951.0,670.2 952.7,668.4 954.5,668.4 956.2,669.0 958.0,668.9 959.8,669.4 961.5,668.0 963.3,668.7 965.0,667.7 966.8,667.5 968.6,668.0 970.3,670.3 972.1,670.2 973.9,671.1 974.7,669.8 975.5,667.1 976.2,666.6 977.0,664.0 977.8,661.3 978.6,660.5 980.0,660.9 981.4,663.0 982.8,664.5 984.2,665.2 985.6,667.5 987.4,667.4 989.2,665.9 990.9,665.9 992.7,664.0 994.0,665.7 995.4,667.3 996.7,667.3 998.1,668.4 999.4,670.1 1000.8,671.9 1002.1,673.4 1002.5,670.6 1002.9,670.8 1003.2,667.7 1003.6,667.0 1004.0,663.6 1004.4,662.8 1005.8,665.0 1007.2,665.3 1008.7,667.1 1010.1,668.7 1011.5,669.9 1013.4,670.8 1015.3,670.9 1017.1,671.5 1019.0,672.5 1020.9,673.4 1022.1,672.0 1023.2,669.4 1024.4,668.4 1025.6,667.5 1027.2,667.0 1028.9,669.2 1030.5,669.4 1032.2,670.1 1033.8,670.2 1035.4,669.3 1037.1,670.4 1038.7,672.1 1040.4,671.7 1042.0,672.2 1043.7,671.3 1045.4,670.4 1047.1,671.6 1048.7,669.3 1050.4,669.4 1052.1,668.8 1053.8,668.7 1055.6,669.2 1057.3,669.9 1059.1,669.7 1060.8,670.3 1062.6,669.0 1064.4,670.1 1066.1,670.2 1067.9,669.9 1069.8,669.0 1071.7,670.3 1073.5,671.0 1075.4,669.3 1077.3,670.4" fill="none" stroke="#0000ff" stroke-width="5.5" stroke-linejoin="round" stroke-linecap="round"/><polyline points="1103.0,655.2 1104.3,654.2 1105.6,653.6 1107.0,653.9 1108.3,651.6 1109.6,650.8 1110.1,652.2 1110.6,653.8 1111.0,653.8 1111.5,656.2 1112.0,658.0 1112.5,658.9 1113.2,658.6 1114.0,655.2 1114.7,654.6 1115.4,652.7 1116.2,653.8 1116.9,651.6 1118.1,653.4 1119.3,652.5 1120.4,656.6 1121.6,657.7 1122.8,657.4 1123.4,656.5 1124.0,655.1 1124.6,652.2 1125.3,650.4 1125.9,650.7 1126.5,647.8 1127.1,647.9 1128.2,647.9 1129.3,649.0 1130.4,649.3 1131.5,651.7 1132.6,652.6 1133.7,653.8 1134.6,653.7 1135.5,651.5 1136.3,650.7 1137.2,649.1 1138.1,647.9 1139.2,649.5 1140.3,650.0 1141.4,650.5 1142.5,653.9 1143.6,655.0 1144.7,654.5 1146.0,654.7 1147.2,653.3 1148.5,651.2 1149.8,650.0 1151.1,649.3 1152.4,647.6 1153.6,649.0 1154.9,647.2 1155.9,648.0 1156.9,650.5 1157.8,650.1 1158.8,653.1 1159.8,653.8 1160.8,653.8 1161.9,651.3 1162.9,651.0 1164.0,652.3 1165.1,650.0 1166.1,650.7 1167.2,647.9 1168.2,645.9 1169.3,646.7 1170.4,646.3 1171.4,643.7 1172.5,643.5 1173.1,643.7 1173.7,645.9 1174.3,649.4 1175.0,650.2 1175.6,649.6 1176.2,651.5 1176.8,653.8 1178.1,651.7 1179.3,650.7 1180.6,652.2 1181.8,649.4 1183.1,649.8 1184.3,648.6 1185.6,647.9 1186.6,646.0 1187.7,646.8 1188.7,643.9 1189.8,644.6 1190.8,642.0 1191.9,642.0 1192.9,641.3 1194.0,641.5 1195.1,642.8 1196.2,646.1 1197.3,645.7 1198.0,645.4 1198.8,642.5 1199.5,643.1 1200.2,640.6 1201.2,640.9 1202.2,642.7 1203.2,645.4 1204.1,645.9 1205.1,645.4 1206.1,647.9 1206.7,648.2 1207.4,644.4 1208.0,643.2 1208.7,643.6 1209.3,640.9 1210.0,639.4 1210.6,637.4 1211.3,636.2 1211.9,636.2 1213.0,637.7 1214.1,637.9 1215.2,640.3 1216.3,641.3 1217.5,640.0 1218.7,639.5 1219.9,640.2 1221.2,637.8 1222.4,637.3 1223.6,636.2 1224.7,638.5 1225.8,637.4 1226.9,638.4 1228.0,640.6 1228.7,640.7 1229.5,639.2 1230.2,636.1 1230.9,634.7 1231.7,635.3 1232.4,633.3 1233.9,634.0 1235.3,630.9 1236.8,632.5 1238.2,631.6 1239.6,630.0 1241.1,628.9 1242.0,627.5 1242.9,625.4 1243.8,624.1 1244.8,626.0 1245.7,622.6 1246.6,623.0 1247.5,620.4 1248.4,620.1 1249.9,620.2 1251.3,618.5 1252.8,617.2 1253.4,615.1 1254.0,613.2 1254.5,613.5 1255.1,610.0 1255.7,609.9 1256.8,610.0 1257.8,612.0 1258.9,613.9 1259.9,614.0 1261.0,613.9 1262.0,616.9 1263.1,616.5 1263.6,614.2 1264.1,612.3 1264.5,611.8 1265.0,611.0 1265.5,608.4 1266.0,608.5 1266.6,606.2 1267.3,605.6 1267.9,605.0 1268.5,602.3 1269.1,601.8 1269.8,602.2 1270.4,599.7 1271.9,600.5 1273.3,598.8 1274.8,598.1 1276.2,596.8 1276.6,595.5 1277.1,592.4 1277.5,590.5 1278.0,588.8 1278.4,588.7 1280.1,590.0 1281.7,589.3 1283.3,590.2 1285.0,588.7 1285.4,585.7 1285.7,586.2 1286.1,584.3 1286.5,583.6 1286.8,580.8 1287.2,581.5 1287.5,577.1 1287.9,577.0 1289.4,576.6 1290.8,576.7 1292.2,576.6 1293.7,574.8 1294.5,574.3 1295.4,573.0 1296.2,572.0 1297.1,571.2 1297.9,568.1 1298.8,567.9 1299.6,566.1 1300.7,566.3 1301.8,565.1 1302.9,562.5 1304.0,561.7 1305.5,563.2 1306.9,564.0 1308.3,563.6 1309.8,563.9 1311.2,564.0 1312.7,563.0 1314.1,563.3 1315.6,563.1 1317.0,562.5 1318.6,561.7 1320.2,564.0 1321.7,565.7 1323.3,564.6 1323.9,567.2 1324.6,568.1 1325.2,568.4 1325.8,570.9 1326.4,571.8 1327.1,572.7 1327.7,575.4 1328.3,574.4 1329.0,577.9 1329.6,578.5 1331.2,577.3 1332.8,579.5 1334.3,579.5 1335.9,579.9 1336.2,580.4 1336.5,583.3 1336.8,584.1 1337.1,585.9 1337.4,588.2 1337.7,587.5 1338.0,589.7 1339.4,588.8 1340.8,590.5 1342.1,592.4 1343.5,592.5 1344.2,592.9 1344.9,594.2 1345.6,598.0 1346.3,598.6 1347.0,599.3 1347.7,600.9 1348.9,601.2 1350.0,598.5 1351.2,598.1 1351.8,600.0 1352.4,599.9 1353.0,602.1 1353.7,604.7 1354.3,606.4 1354.9,607.7 1355.5,607.5 1356.1,609.3 1357.1,610.6 1358.1,610.7 1359.1,611.1 1360.1,613.3 1361.1,615.4 1362.1,616.4 1363.1,616.3 1364.5,617.7 1365.9,619.1 1367.3,617.7 1368.7,619.1 1369.6,619.1 1370.6,621.0 1371.5,621.5 1372.4,622.4 1373.4,624.1 1374.3,625.4 1375.2,624.5 1376.2,622.8 1377.1,621.0 1378.0,621.4 1379.0,620.5 1379.9,617.7 1380.2,618.9 1380.5,619.1 1380.8,620.4 1381.1,624.5 1381.5,623.2 1381.8,626.8 1382.1,627.7 1382.4,628.3 1382.7,630.3 1383.8,630.3 1384.9,626.8 1386.1,626.2 1387.2,626.2 1388.3,625.4 1389.9,624.0 1391.5,626.7 1393.2,624.9 1394.8,624.7 1396.4,624.5 1398.0,626.1 1399.2,625.5 1400.5,623.8 1401.7,623.4 1402.9,621.9 1403.7,621.1 1404.5,620.3 1405.3,619.5 1406.2,617.4 1407.0,614.5 1407.8,614.2 1408.2,615.6 1408.6,616.2 1409.0,617.1 1409.4,620.1 1409.8,622.4 1410.2,622.2 1410.6,624.7 1412.0,624.7 1413.4,625.6 1414.8,627.4 1416.2,627.5 1417.3,626.4 1418.4,625.6 1419.6,625.0 1420.7,622.7 1421.8,621.9 1423.2,622.6 1424.6,622.7 1426.0,619.8 1427.4,622.2 1428.8,621.3 1430.2,619.1 1431.6,619.9 1433.0,619.8 1434.4,619.7 1435.8,620.2 1437.2,618.0 1438.6,618.2 1440.0,618.7 1441.4,617.0 1442.3,619.1 1443.3,620.8 1444.2,620.5 1444.5,619.0 1444.8,618.2 1445.1,615.4 1445.4,615.6 1445.8,614.5 1446.1,612.6 1446.4,611.4 1446.7,608.4 1447.0,607.9 1447.7,610.6 1448.4,612.2 1449.1,613.6 1449.8,613.6 1450.5,615.8 1451.2,616.3 1452.0,614.3 1452.9,614.8 1453.7,613.2 1454.6,610.2 1455.4,609.3 1456.4,609.0 1457.5,611.2 1458.5,612.6 1459.5,613.5 1460.4,613.1 1461.2,611.0 1462.1,608.3 1463.0,608.6 1463.7,610.8 1464.4,609.7 1465.1,613.3 1465.8,612.6 1466.5,614.9 1467.9,615.2 1469.3,617.5 1470.7,616.3 1472.1,617.1 1473.5,619.1 1474.3,617.9 1475.2,617.3 1476.0,616.4 1476.9,614.7 1477.7,612.8 1478.8,615.3 1479.9,615.0 1481.1,617.6 1482.2,616.0 1483.3,618.4 1484.9,617.3 1486.6,618.0 1488.2,617.7 1488.8,618.3 1489.4,621.0 1490.0,622.0 1490.5,622.9 1491.1,625.2 1491.7,625.4 1493.6,625.6 1495.4,624.8 1497.3,625.4 1497.9,623.6 1498.5,623.7 1499.0,622.5 1499.6,618.9 1500.2,619.5 1500.8,617.0 1501.1,620.0 1501.5,620.0 1501.8,621.6 1502.2,621.9 1502.5,624.5 1502.9,625.8 1503.2,627.6 1503.6,627.2 1504.0,631.7 1504.3,631.7 1505.7,632.2 1507.1,632.2 1508.5,633.0 1510.2,633.3 1511.8,631.9 1513.5,631.0" fill="none" stroke="#0000ff" stroke-width="5.6" stroke-linejoin="round" stroke-linecap="round"/><polyline points="101.6,881.1 103.4,882.5 105.3,882.6 107.1,883.3 108.9,884.2 110.8,883.3 112.6,884.4 114.4,884.0 116.3,883.8 118.1,883.0 119.9,881.6 121.8,880.0 123.6,880.0 125.3,878.9 127.1,879.3 128.8,876.5 130.6,876.1 132.3,875.6 134.1,877.0 135.8,876.4 137.6,876.3 139.3,877.0 141.1,877.8 142.8,877.6 144.4,875.2 146.0,874.3 147.7,873.4 149.3,874.2 151.0,875.2 152.7,875.0 154.3,875.6 156.0,873.6 157.6,873.6 159.2,871.3 160.9,871.2 162.6,869.6 164.3,869.1 166.0,869.5 167.7,867.8 169.5,868.0 171.2,866.1 172.9,865.3 174.6,864.4 176.3,864.7 178.1,865.9 179.9,866.9 181.8,866.2 183.6,867.0 185.4,867.2 187.2,869.0 188.8,868.4 190.3,866.7 191.9,865.4 193.5,865.6 195.1,864.6 196.6,863.3 198.2,862.5 200.0,861.9 201.9,863.2 203.7,863.2 205.5,863.1 207.4,862.7 209.2,863.6 211.1,864.2 213.0,863.8 214.9,863.1 216.7,863.4 218.6,862.2 220.5,861.4 222.4,861.4 224.6,861.7 226.8,863.6 228.5,863.4 230.1,862.8 231.8,862.2 233.4,863.0 235.1,862.3 236.7,860.3 238.3,861.6 240.0,860.3 241.7,858.3 243.5,858.9 245.2,857.3 247.0,857.3 248.7,855.9 250.5,856.0 252.2,854.2 254.0,853.8 255.7,851.4 257.5,851.5 259.3,851.9 261.0,850.7 262.8,851.4 264.5,851.1 266.3,851.5 268.1,851.4 269.8,853.8 271.6,853.2 273.3,854.5 275.1,855.9 276.9,854.3 278.8,854.8 280.6,853.3 282.4,852.0 284.3,851.2 286.1,851.5 286.9,849.4 287.8,848.5 288.6,845.9 289.4,844.4 290.2,844.3 291.1,842.5 291.9,840.1 292.7,839.4 294.4,839.8 296.0,840.2 297.6,841.4 299.3,842.7 301.0,842.1 302.7,841.3 304.4,840.9 306.1,840.6 307.8,840.4 309.5,840.6 311.2,841.0 312.9,840.1 314.6,839.4 315.9,837.9 317.1,835.5 318.4,834.5 319.6,834.0 320.9,832.1 322.1,831.7 323.4,829.5 325.0,831.5 326.7,831.3 328.4,832.5 330.0,833.9 331.0,832.1 332.0,831.5 333.0,828.8 334.0,827.8 335.0,827.7 336.0,825.2 337.0,825.1 338.0,822.5 339.0,822.0 340.0,819.8 341.0,818.5 342.8,818.0 344.6,819.4 346.4,819.0 348.2,820.0 348.8,819.2 349.5,817.1 350.1,815.0 350.8,814.2 351.4,811.7 352.0,811.0 352.7,808.7 353.3,806.6 354.9,805.0 356.4,804.4 358.0,804.8 359.5,802.3 361.1,803.4 362.6,801.5 363.2,798.9 363.8,798.8 364.4,796.9 364.9,794.8 365.5,793.7 366.1,792.0 366.7,790.2 367.9,788.7 369.1,787.3 370.4,785.5 371.6,785.7 372.8,784.1 373.3,783.3 373.8,780.5 374.3,780.0 374.8,777.3 375.4,775.4 375.9,774.9 376.4,773.6 376.9,770.1 377.4,770.2 377.9,767.7 379.2,765.8 380.5,765.2 381.8,762.6 383.1,761.5 383.8,760.9 384.5,757.7 385.2,755.7 385.8,753.7 386.5,752.2 387.2,750.4 387.9,750.2 388.6,746.8 389.2,745.3 389.9,743.8 390.6,741.9 391.3,741.0 391.9,740.0 392.5,736.7 393.1,736.6 393.6,734.2 394.2,732.2 394.8,730.8 395.4,729.8 396.0,727.6 396.6,726.3 397.2,724.7 397.7,723.4 398.3,722.2 398.9,719.6 399.5,718.5 399.8,717.0 400.1,715.5 400.5,712.9 400.8,712.2 401.1,709.0 401.4,708.2 401.8,706.1 402.1,703.9 402.4,703.4 402.7,702.1 403.1,699.6 403.4,697.6 403.7,697.1 404.0,695.5 404.3,693.0 404.7,691.1 405.0,689.6 405.3,688.0 405.6,686.3 406.0,684.2 406.3,683.0 406.6,680.7 407.0,679.5 407.3,677.6 407.7,675.6 408.0,673.5 408.4,671.5 408.7,670.4 409.1,668.3 409.5,666.9 409.8,664.5 410.2,664.4 410.5,661.0 410.9,660.9 411.2,658.5 411.6,657.6 411.9,655.8 412.3,652.5 412.7,651.0 413.0,650.9 413.4,648.4 413.7,645.4 414.1,644.1 414.4,642.0 414.8,641.2 415.1,639.0 415.3,636.8 415.6,635.0 415.9,633.3 416.1,632.5 416.4,631.2 416.6,629.1 416.9,627.7 417.2,625.9 417.4,623.0 417.7,622.5 418.0,620.4 418.2,618.4 418.5,617.9 418.7,615.0 419.0,613.8 419.3,612.3 419.5,609.9 419.8,608.2 420.1,605.7 420.3,604.1 420.6,602.6 420.9,600.7 421.1,599.4 421.4,597.0 421.6,596.8 421.9,595.1 422.2,593.1 422.4,590.2 422.7,588.7 423.0,588.5 423.2,586.8 423.5,584.7 423.8,583.3 424.0,580.2 424.3,578.6 424.6,577.2 424.8,575.6 425.1,573.7 425.3,571.7 425.6,571.2 425.9,568.1 426.1,567.3 426.4,565.4 426.7,564.4 427.0,561.2 427.3,559.9 427.7,558.2 428.0,556.3 428.3,555.9 428.6,554.1 428.9,550.8 429.2,548.9 429.5,548.3 429.9,546.4 430.2,543.6 430.5,543.7 430.8,542.0 431.1,539.6 431.4,536.8 431.7,535.3 432.1,535.0 432.4,533.0 432.7,530.7 433.0,529.1 433.3,528.3 433.5,524.6 433.8,524.3 434.0,522.9 434.3,521.1 434.5,517.8 434.8,517.4 435.1,515.3 435.3,513.8 435.6,511.0 435.8,511.0 436.1,509.3 436.4,505.7 436.6,504.9 436.9,503.1 437.1,501.2 437.4,499.2 437.6,497.3 437.9,496.1 438.2,494.9 438.5,492.8 438.8,491.0 439.2,489.4 439.5,487.3 439.8,486.9 440.1,485.0 440.4,482.2 440.7,480.6 441.0,479.4 441.3,478.0 441.7,476.9 442.0,475.3 442.3,471.7 442.6,471.0 443.2,470.1 443.9,466.5 444.5,465.8 446.0,465.2 447.5,464.2 450.5,465.2 451.2,467.9 452.0,468.6 452.7,471.4 453.1,472.4 453.6,473.8 454.0,476.2 454.5,478.7 454.9,478.5 455.3,481.8 455.8,482.7 456.2,485.5 456.7,486.4 457.1,487.8 457.5,489.0 458.0,491.9 458.4,492.7 458.9,494.9 459.3,496.1 459.5,498.2 459.8,500.2 460.0,500.8 460.3,502.1 460.5,504.0 460.8,506.6 461.0,507.2 461.3,508.8 461.5,511.2 461.7,513.6 462.0,514.2 462.2,516.2 462.5,517.5 462.7,521.1 463.0,522.7 463.2,524.5 463.5,525.5 463.7,526.6 463.9,528.1 464.2,530.0 464.4,532.7 464.7,533.8 464.9,534.6 465.2,538.0 465.4,539.7 465.7,539.5 465.9,542.3 466.1,543.1 466.4,545.7 466.6,547.4 466.9,549.8 467.1,550.2 467.4,553.6 467.6,553.9 467.9,555.2 468.1,558.7 468.3,560.0 468.6,561.7 468.8,562.1 469.1,565.5 469.3,565.8 469.6,567.8 469.8,570.4 470.1,570.5 470.3,572.0 470.5,575.0 470.8,576.5 471.0,579.1 471.3,580.9 471.5,581.3 471.8,583.8 472.0,583.9 472.3,587.2 472.5,588.4 472.9,589.9 473.3,591.3 473.7,592.9 474.1,594.9 474.6,596.5 475.0,597.9 475.4,598.9 475.8,600.6 476.2,602.2 476.6,605.7 477.0,606.4 477.5,608.1 477.9,610.8 478.3,610.6 478.7,613.8 479.1,614.8 479.4,617.4 479.7,618.1 480.0,620.4 480.4,620.6 480.7,623.2 481.0,624.1 481.3,627.4 481.6,629.6 481.9,631.3 482.2,632.1 482.6,634.5 482.9,635.9 483.2,636.1 483.5,638.5 483.8,639.8 484.1,642.2 484.4,643.7 484.8,644.8 485.1,646.5 485.4,648.4 485.7,651.0 486.1,652.9 486.5,655.2 486.9,656.5 487.3,658.8 487.6,659.1 488.0,660.9 488.4,662.9 488.8,664.0 489.2,666.8 489.6,667.6 490.0,669.3 490.4,672.7 490.7,673.2 491.1,675.3 491.5,677.1 491.9,677.9 492.3,680.7 492.7,681.4 493.1,685.0 493.5,686.8 493.9,688.3 494.2,689.4 494.6,690.5 495.0,692.2 495.4,694.7 495.8,695.8 496.2,698.4 496.6,701.0 497.0,702.6 497.3,702.9 497.7,704.6 498.1,705.9 498.5,709.6 498.9,710.4 499.2,713.2 499.6,714.7 499.9,716.2 500.3,717.7 500.6,720.2 500.9,720.6 501.3,722.8 501.6,725.5 502.0,726.5 502.3,727.8 502.6,729.2 503.0,731.1 503.3,734.2 503.7,735.3 504.0,736.9 505.2,738.7 506.4,740.4 507.6,741.5 508.8,742.4 510.0,742.8 511.2,745.1 512.0,747.3 512.8,747.7 513.6,749.2 514.4,750.5 515.2,753.1 516.0,755.0 516.8,755.4 517.6,757.0 518.4,759.5 520.4,760.1 522.5,760.9 524.5,761.5 525.3,762.4 526.0,765.5 526.8,766.0 527.6,767.1 528.4,769.8 529.2,771.3 529.9,771.8 530.7,773.8 531.9,774.7 533.1,776.1 534.4,776.6 535.6,779.6 536.8,780.0 538.9,779.3 540.9,779.4 543.0,780.0 544.0,781.9 545.0,782.7 546.0,784.4 547.1,784.7 548.1,787.2 549.1,788.2 551.2,789.0 553.2,788.8 555.3,787.5 555.7,784.8 556.1,783.4 556.5,781.9 557.0,781.0 557.4,779.2 557.8,777.5 558.2,775.3 558.6,773.3 559.0,772.4 559.5,770.2 559.9,769.5 560.3,767.5 560.6,770.4 560.9,770.3 561.3,773.8 561.6,775.7 561.9,776.3 562.2,777.3 562.6,779.8 562.9,781.4 563.2,784.3 563.6,786.6 563.9,788.4 564.2,789.2 565.8,788.0 567.4,787.4 569.0,787.3 570.7,786.3 572.3,786.6 573.9,785.9 575.5,785.1 577.0,783.1 578.4,782.7 579.9,782.3 581.4,781.4 582.9,781.2 584.3,778.9 585.8,778.9 587.2,777.0 588.5,776.6 589.9,775.1 591.3,774.0 592.6,774.8 594.0,773.2 595.4,770.7 596.7,771.3 598.1,769.7 599.1,767.5 600.1,767.9 601.2,765.0 602.2,763.9 603.2,761.9 604.2,761.5 604.7,759.1 605.2,757.1 605.7,756.6 606.2,755.3 606.8,751.7 607.3,750.2 607.8,749.7 608.3,747.2 609.2,745.9 610.1,745.0 611.0,742.4 611.8,740.4 612.7,739.7 613.6,738.2 614.5,736.9 615.1,734.4 615.6,733.8 616.2,732.4 616.7,730.4 617.3,729.0 617.8,727.4 618.4,726.0 618.9,724.0 619.5,721.4 620.0,721.0 620.6,718.5 621.0,717.6 621.5,715.8 621.9,714.2 622.3,710.4 622.7,710.6 623.1,708.8 623.6,705.9 624.0,703.8 624.4,703.4 624.9,701.9 625.3,699.1 625.7,696.6 626.1,695.1 626.5,693.7 627.0,692.7 627.4,690.6 627.8,689.5 628.2,686.2 628.6,684.4 629.0,683.9 629.3,681.8 629.7,680.1 630.1,679.3 630.5,675.6 630.9,675.2 631.3,672.9 631.7,671.5 632.1,669.0 632.4,668.6 632.8,665.9 633.2,664.4 633.6,662.9 634.0,660.9 634.3,659.0 634.6,656.7 634.9,655.8 635.1,653.2 635.4,652.3 635.7,651.0 636.0,649.7 636.3,647.2 636.6,645.5 636.9,643.8 637.2,642.1 637.4,639.7 637.7,638.3 638.0,635.9 638.3,634.2 638.6,634.0 638.9,630.9 639.2,629.0 639.5,629.3 639.7,625.7 640.0,624.0 640.3,622.3 640.6,621.4 640.9,619.6 641.2,618.0 641.5,615.6 641.8,615.0 642.0,613.3 642.3,610.8 642.6,608.5 642.9,606.6 643.2,606.5 643.5,603.3 643.8,603.1 644.1,600.1 644.3,599.7 644.6,596.6 644.9,595.7 645.2,592.5 645.5,591.7 645.8,589.6 646.0,588.8 646.3,587.4 646.5,585.6 646.8,584.0 647.1,582.3 647.3,580.0 647.6,577.8 647.8,575.5 648.1,574.7 648.4,573.3 648.6,571.1 648.9,568.6 649.2,567.8 649.4,566.1 649.7,563.9 649.9,561.7 650.2,561.2 650.5,558.2 650.7,556.2 651.0,555.9 651.2,553.9 651.5,552.0 651.8,551.3 652.1,548.0 652.5,546.3 652.8,545.6 653.1,543.3 653.5,542.1 653.8,540.2 654.1,537.7 654.5,536.1 654.9,533.3 655.2,531.9 655.6,531.1 656.0,528.1 656.3,525.1 656.6,524.7 657.0,523.3 657.3,521.0 657.6,518.5 657.9,516.7 658.2,515.1 658.5,513.0 658.8,510.8 659.2,510.3 659.5,508.3 659.8,505.5 662.0,503.4 665.0,503.1 668.0,503.4 670.2,505.5 670.5,506.8 670.7,508.3 671.0,511.7 671.3,512.9 671.5,515.0 671.8,516.7 672.2,518.0 672.6,521.5 673.0,523.3 673.5,524.7 673.9,527.2 674.3,528.1 674.7,529.1 675.1,532.2 675.4,533.0 675.8,536.6 676.2,537.7 676.5,539.6 676.8,541.8 677.0,542.8 677.3,544.0 677.6,546.1 677.9,548.4 678.1,550.4 678.4,552.7 678.7,554.2 679.0,555.9 679.2,557.8 679.5,558.8 680.1,560.1 680.6,562.2 681.2,563.0 681.7,565.1 682.3,567.7 682.9,568.1 683.4,569.6 684.0,571.6 684.5,572.5 685.1,575.2 685.4,576.5 685.7,577.9 686.0,580.4 686.3,581.6 686.5,584.7 686.8,585.8 687.1,588.0 687.4,588.7 687.7,591.1 688.0,593.8 688.3,595.3 688.6,596.0 688.8,598.2 689.1,599.9 689.4,600.6 689.7,604.0 690.0,604.9 690.4,606.2 690.8,608.4 691.2,609.2 691.6,612.4 691.9,614.0 692.3,616.4 692.7,616.6 693.1,618.1 693.5,619.7 693.9,621.4 694.3,624.8 694.7,625.4 695.0,626.9 695.4,629.4 695.8,630.7 696.2,633.8 696.6,634.6 696.9,635.3 697.3,638.8 697.6,640.2 698.0,642.5 698.3,642.7 698.7,645.4 699.0,645.7 699.4,649.0 699.7,649.4 700.1,650.9 700.4,653.8 700.8,656.3 701.1,657.6 701.5,659.5 701.8,661.0 702.2,662.7 702.5,664.8 702.9,664.7 703.2,667.5 703.5,668.7 703.8,670.1 704.1,671.7 704.5,675.3 704.8,675.2 705.1,678.9 705.4,679.1 705.7,681.4 706.0,682.6 706.3,685.0 706.7,686.3 707.0,687.6 707.3,689.0 707.6,692.5 707.9,692.4 708.2,695.6 708.5,697.6 708.9,697.6 709.2,699.4 709.5,701.7 709.8,703.8 710.1,706.1 710.3,706.6 710.6,708.3 710.9,711.3 711.2,713.5 711.4,713.9 711.7,717.3 712.0,717.0 712.3,719.8 712.5,721.5 712.8,724.1 713.1,726.2 713.4,727.1 713.6,729.3 713.9,730.5 714.3,732.5 714.8,733.1 715.2,736.4 715.6,736.6 716.0,738.7 716.5,741.8 716.9,743.6 717.3,744.8 717.7,746.0 718.1,747.4 718.6,749.1 719.0,751.3 719.4,752.1 719.9,753.8 720.3,755.7 720.8,758.5 721.2,760.3 721.7,762.8 722.1,764.4 722.5,765.2 723.0,766.2 723.4,769.2 723.9,771.3 724.3,771.8 724.8,773.3 725.2,775.9 725.6,778.8 725.9,780.0 726.2,781.2 726.6,783.9 726.9,784.3 727.3,787.1 727.8,788.2 728.4,791.3 728.9,791.9 729.5,794.1 730.0,795.9 730.6,797.3 731.1,798.3 731.7,799.9 732.2,801.9 733.1,803.4 734.1,805.5 735.0,806.6 735.9,807.1 736.8,809.5 737.8,811.2 738.7,812.9 739.6,814.3 740.4,815.7 741.3,817.3 742.1,819.4 742.9,820.8 743.7,821.3 744.6,822.3 745.4,825.4 746.2,826.4 747.0,826.6 747.9,829.1 748.7,830.9 749.5,833.2 750.3,833.3 751.2,834.3 752.0,836.6 753.2,837.7 754.5,838.3 755.7,841.0 757.0,840.7 758.2,843.9 759.4,843.0 760.7,845.6 761.9,847.6 763.2,847.2 764.4,849.0 766.2,849.3 767.9,849.6 769.7,851.4 771.5,852.1 773.3,852.2 775.0,853.6 776.8,854.0 779.3,854.1 781.8,854.0 782.3,856.0 782.9,858.3 783.4,859.1 783.9,861.5 784.4,863.5 785.0,864.5 785.5,866.4 786.7,865.3 788.0,865.0 789.2,862.2 790.5,861.2 791.7,860.2 792.9,861.9 794.2,863.8 795.4,863.6 796.7,865.8 797.9,865.5 799.1,866.9 800.4,868.7 801.6,870.1 802.8,868.4 804.0,867.2 805.3,866.7 806.5,865.1 808.4,866.6 810.2,867.2 812.1,868.1 814.0,868.8 815.5,866.5 817.1,867.1 818.7,865.6 820.2,863.9 821.9,863.6 823.5,865.1 825.2,865.0 826.8,865.3 828.5,867.1 830.1,867.6 831.3,869.4 832.6,871.3 833.8,871.9 835.1,872.6 836.3,875.0 837.5,873.3 838.8,872.3 840.0,870.4 841.2,871.1 842.5,868.4 843.7,867.6 845.6,868.4 847.4,867.2 849.2,868.2 851.1,867.6 852.6,868.7 854.1,869.7 855.6,871.7 857.1,872.2 858.6,873.8 860.2,872.9 861.9,873.5 863.5,872.0 865.2,872.1 866.9,871.4 868.5,870.1 870.1,871.1 871.8,871.8 873.5,872.3 875.1,870.8 876.8,872.2 878.4,872.6 880.2,873.8 882.1,874.7 883.9,874.7 885.8,876.3 886.5,874.6 887.3,873.9 888.0,870.9 888.8,868.8 889.5,867.6 890.4,869.6 891.3,871.4 892.2,872.7 893.0,874.8 893.9,876.5 894.8,877.0 895.7,878.8 896.7,877.7 897.7,876.2 898.7,873.1 899.7,870.9 900.7,870.1 901.9,872.2 903.2,873.7 904.4,873.8 905.7,876.5 906.9,877.5 908.1,876.3 909.4,874.4 910.6,872.7 911.9,871.7 913.1,872.0 914.4,869.2 915.6,868.8 916.8,870.8 918.1,870.5 919.3,871.9 920.5,874.5 921.8,874.5 923.0,876.3 924.6,875.7 926.3,875.8 928.0,874.0 929.6,873.8 931.2,874.3 932.9,873.8 934.7,874.2 936.4,874.6 938.2,876.2 940.0,875.1 941.8,876.1 943.5,877.0 945.3,877.5 946.8,877.6 948.3,876.1 949.7,874.5 951.2,874.7 952.7,872.6 954.6,873.8 956.4,873.9 958.3,874.2 960.2,874.5 962.0,873.5 963.9,874.4 965.7,874.5 967.6,875.0 969.2,873.5 970.9,872.0 972.5,870.9 974.2,870.1 975.9,868.9 977.5,868.8 978.5,871.1 979.5,872.5 980.5,873.6 981.5,875.1 982.5,876.3 983.5,874.6 984.5,872.6 985.5,872.9 986.6,871.1 987.6,868.3 988.6,867.6 989.2,869.8 989.9,870.8 990.5,872.4 991.1,874.7 991.8,877.3 992.4,878.8 994.0,878.5 995.5,877.8 997.1,877.5 998.7,877.0 1000.3,875.5 1001.8,875.8 1003.4,873.4 1005.0,874.2 1006.6,872.4 1008.1,872.0 1009.7,871.3 1011.5,872.1 1013.2,872.3 1015.0,872.7 1016.8,873.2 1018.6,873.2 1020.3,873.6 1022.1,875.0 1023.8,876.3 1025.4,875.5 1027.1,877.1 1028.7,877.0 1030.4,878.1 1032.0,878.8 1033.7,879.1 1035.3,880.4 1037.0,880.0 1038.4,879.5 1039.8,878.2 1041.2,876.1 1042.7,875.5 1044.1,875.4 1045.5,873.8 1046.9,872.6 1047.9,874.7 1048.9,875.1 1049.8,877.4 1050.8,877.9 1051.8,880.0 1053.0,878.0 1054.3,876.9 1055.5,875.0 1056.8,873.8 1058.3,874.1 1059.8,875.7 1061.2,875.8 1062.7,878.3 1064.2,878.8 1065.7,877.4 1067.2,877.3 1068.7,876.3 1070.2,875.0 1071.7,873.8 1073.3,874.6 1075.0,876.3 1076.6,876.3" fill="none" stroke="#ff0000" stroke-width="5.5" stroke-linejoin="round" stroke-linecap="round"/><polyline points="1103.0,859.3 1104.3,858.8 1105.6,861.1 1107.0,861.5 1108.3,861.6 1109.6,862.2 1110.7,860.0 1111.8,860.6 1112.9,859.4 1114.0,857.1 1115.0,858.5 1116.0,859.8 1117.1,860.2 1118.1,860.8 1119.1,863.7 1119.8,862.0 1120.6,861.3 1121.3,858.4 1122.1,859.4 1122.8,857.1 1123.9,857.1 1124.9,858.0 1126.0,858.3 1127.1,860.7 1128.6,861.9 1130.0,860.8 1131.5,860.9 1133.0,859.3 1134.1,858.8 1135.3,856.1 1136.4,856.2 1137.6,855.9 1138.7,853.9 1139.9,855.7 1141.0,853.4 1142.0,854.2 1143.0,854.7 1144.0,858.1 1144.9,857.1 1145.9,860.9 1146.9,860.7 1148.0,859.5 1149.1,858.7 1150.2,856.9 1151.2,856.3 1152.3,854.3 1153.4,852.7 1154.5,854.3 1155.6,852.0 1156.2,852.5 1156.9,855.6 1157.5,855.2 1158.2,859.0 1158.8,860.1 1159.5,861.0 1160.1,862.4 1160.8,862.9 1161.8,861.9 1162.7,861.2 1163.7,858.0 1164.7,858.0 1165.6,857.9 1166.6,855.6 1167.8,853.8 1169.0,855.2 1170.1,854.2 1171.3,851.8 1172.5,851.2 1173.4,851.9 1174.2,853.4 1175.1,854.4 1175.9,857.5 1176.8,857.1 1178.3,857.0 1179.7,856.1 1181.2,856.5 1182.7,858.8 1184.1,859.9 1185.6,858.6 1187.0,858.2 1188.5,857.8 1190.0,857.6 1191.4,857.1 1192.6,856.9 1193.9,854.2 1195.1,854.5 1196.3,853.3 1197.6,852.6 1198.8,851.2 1200.0,851.2 1201.1,852.2 1202.3,853.8 1203.4,856.7 1204.6,856.4 1205.6,855.0 1206.7,854.8 1207.7,853.0 1208.8,851.4 1209.8,850.3 1210.9,851.7 1211.9,849.8 1213.4,851.3 1214.8,850.6 1216.3,852.1 1217.7,852.7 1219.2,852.7 1220.1,852.7 1221.0,851.5 1221.8,848.4 1222.7,849.0 1223.6,846.1 1224.7,848.9 1225.8,848.9 1226.9,851.2 1228.0,851.2 1228.7,849.7 1229.5,847.9 1230.2,846.0 1230.9,846.6 1231.7,842.9 1232.4,842.5 1233.9,842.0 1235.3,845.3 1236.8,846.1 1238.2,846.1 1239.3,845.1 1240.5,845.2 1241.6,841.8 1242.7,841.5 1243.9,840.6 1245.0,840.0 1246.1,838.3 1247.3,837.0 1248.4,837.4 1249.0,835.6 1249.7,836.2 1250.3,835.2 1250.9,833.2 1251.5,831.0 1252.2,829.1 1252.8,828.6 1254.3,829.3 1255.8,827.2 1257.2,827.2 1258.7,825.7 1259.4,822.9 1260.2,822.2 1260.9,822.9 1261.6,821.5 1262.3,820.5 1263.0,818.3 1263.8,816.5 1264.5,815.4 1266.0,815.3 1267.5,815.8 1268.9,813.7 1270.4,814.0 1270.8,812.6 1271.1,810.4 1271.5,810.5 1271.8,806.6 1272.2,807.3 1272.6,806.7 1272.9,802.2 1273.3,802.3 1274.8,802.6 1276.2,802.8 1277.7,802.3 1278.0,802.0 1278.3,799.6 1278.7,797.1 1279.0,796.1 1279.3,796.4 1279.6,794.8 1280.0,790.9 1280.3,789.3 1280.6,789.1 1281.7,786.7 1282.8,785.4 1283.9,785.7 1285.0,784.8 1285.4,782.2 1285.7,783.0 1286.1,780.9 1286.5,777.7 1286.8,777.6 1287.2,775.4 1287.6,774.5 1287.9,772.2 1288.3,770.5 1288.7,769.1 1289.0,768.3 1289.4,767.2 1290.1,766.4 1290.8,764.5 1291.6,761.4 1292.3,762.1 1293.0,761.1 1293.7,758.5 1294.2,757.9 1294.8,756.5 1295.3,752.5 1295.9,752.5 1296.5,749.8 1297.0,750.6 1297.5,747.2 1298.1,746.8 1298.6,746.0 1299.1,743.1 1299.5,743.0 1300.0,740.3 1300.5,738.0 1301.0,738.0 1302.1,736.5 1303.2,735.2 1304.3,736.0 1305.4,733.6 1306.0,731.5 1306.5,730.7 1307.0,729.4 1307.6,729.2 1308.2,725.0 1308.7,725.1 1309.2,723.4 1309.8,721.9 1310.8,721.6 1311.8,721.3 1312.8,718.2 1313.8,717.8 1315.3,719.2 1316.8,719.5 1318.3,720.4 1319.8,721.0 1321.2,720.3 1322.6,723.4 1324.0,724.6 1325.4,723.8 1325.8,724.7 1326.1,726.0 1326.5,729.6 1326.8,728.1 1327.2,729.4 1327.5,730.8 1327.8,734.5 1328.2,735.8 1328.5,736.2 1328.9,738.1 1329.2,737.6 1329.6,740.5 1330.4,742.1 1331.3,742.6 1332.1,743.9 1333.0,744.6 1333.8,746.1 1334.6,747.2 1335.5,748.0 1336.3,748.9 1337.2,751.5 1338.0,753.1 1338.5,753.7 1338.9,756.6 1339.4,758.3 1339.8,759.4 1340.3,760.0 1340.8,760.7 1341.2,762.5 1341.7,764.3 1342.1,766.1 1342.6,768.6 1343.0,767.2 1343.5,769.9 1344.0,771.2 1344.5,772.7 1345.1,774.8 1345.6,776.7 1346.1,777.8 1346.7,778.7 1347.2,780.5 1347.7,781.1 1348.4,783.0 1349.1,785.0 1349.8,785.9 1350.5,787.2 1351.2,787.2 1351.9,789.4 1352.3,792.1 1352.7,791.8 1353.1,794.0 1353.5,796.0 1353.9,797.9 1354.3,799.4 1354.7,799.2 1355.5,798.8 1356.3,801.0 1357.1,802.2 1357.9,803.7 1358.7,804.1 1359.5,806.6 1360.3,807.6 1361.1,807.5 1361.9,809.4 1362.7,812.6 1363.5,813.2 1364.3,813.5 1365.1,813.5 1365.9,816.0 1367.0,818.9 1368.0,819.5 1369.0,819.3 1370.1,821.6 1371.5,821.4 1372.9,822.8 1374.3,823.2 1375.7,823.0 1376.6,823.4 1377.6,826.8 1378.5,825.9 1379.4,826.9 1380.4,829.9 1381.3,830.0 1382.7,829.2 1384.1,831.3 1385.5,830.1 1386.9,831.4 1388.0,832.8 1389.1,832.9 1390.3,834.4 1391.4,837.3 1392.5,837.0 1393.1,835.5 1393.6,834.0 1394.2,833.2 1394.7,830.7 1395.3,830.0 1397.0,828.8 1398.6,829.4 1400.3,828.9 1401.9,828.4 1403.6,829.3 1405.0,831.9 1406.4,830.1 1407.8,832.8 1409.2,834.2 1410.6,835.0 1412.0,834.7 1413.4,832.9 1414.8,834.9 1416.0,834.1 1417.1,831.8 1418.3,832.8 1419.5,832.3 1420.6,830.0 1421.8,830.0 1422.8,829.5 1423.9,832.2 1425.0,831.9 1426.0,834.2 1427.4,833.1 1428.8,833.1 1430.2,834.1 1431.6,831.9 1433.0,830.7 1434.4,831.4 1435.6,831.4 1436.7,830.6 1437.9,828.7 1439.1,826.2 1440.2,825.7 1441.4,825.8 1442.5,824.1 1443.5,823.2 1444.5,820.7 1445.6,820.2 1447.0,820.9 1448.4,820.7 1449.8,820.7 1451.2,820.3 1452.6,818.8 1453.4,818.4 1454.2,821.4 1455.0,821.0 1455.8,824.7 1456.6,825.4 1457.4,825.8 1457.8,825.2 1458.3,822.0 1458.7,820.2 1459.2,821.2 1459.6,819.1 1460.0,817.8 1460.5,815.9 1460.9,814.6 1462.3,815.3 1463.7,813.5 1465.1,813.0 1466.5,813.0 1467.9,813.2 1469.3,813.4 1470.7,815.4 1472.1,817.1 1473.5,816.7 1474.2,813.9 1474.9,812.5 1475.6,812.5 1476.3,811.1 1477.7,812.4 1479.1,811.5 1480.5,812.5 1481.9,812.5 1483.3,814.6 1484.7,814.3 1486.1,816.9 1487.5,818.1 1488.9,817.8 1490.3,816.8 1491.7,814.4 1493.1,814.6 1493.9,814.5 1494.8,818.2 1495.6,818.1 1496.5,818.8 1497.3,820.2 1498.3,819.8 1499.4,818.8 1500.5,817.1 1501.5,816.0 1501.7,816.1 1501.8,819.8 1502.0,819.3 1502.1,820.1 1502.3,822.5 1502.4,824.5 1502.6,826.2 1502.7,826.2 1502.9,828.6 1504.3,830.3 1505.7,830.7 1507.1,830.7 1508.5,832.8 1509.6,835.0 1510.7,836.0 1511.8,837.5 1512.9,837.9 1514.0,838.4" fill="none" stroke="#ff0000" stroke-width="5.6" stroke-linejoin="round" stroke-linecap="round"/><polyline points="103.1,1063.8 103.8,1065.6 104.5,1066.7 105.2,1068.9 107.2,1068.4 109.2,1070.3 111.3,1069.8 113.3,1071.0 114.7,1069.1 116.0,1068.0 117.3,1067.2 118.7,1066.6 120.1,1064.1 121.4,1062.8 123.4,1064.2 125.5,1064.6 127.5,1063.8 128.8,1062.0 130.1,1060.4 131.3,1059.3 132.6,1058.8 134.0,1061.0 135.4,1061.9 136.9,1064.0 138.3,1065.5 139.7,1065.9 140.9,1064.8 142.0,1063.1 143.2,1060.6 144.4,1059.0 145.6,1059.3 146.7,1057.5 147.9,1055.7 149.6,1055.8 151.3,1054.8 152.9,1054.6 154.6,1054.0 156.3,1054.1 158.0,1052.7 159.3,1053.1 160.6,1055.2 161.8,1056.0 163.1,1057.7 164.4,1057.1 165.7,1055.9 167.0,1053.3 168.4,1051.6 169.7,1050.6 171.0,1049.5 172.3,1048.6 174.3,1049.5 176.4,1049.1 178.4,1049.6 179.9,1048.1 181.4,1045.5 182.4,1046.6 183.4,1048.6 184.5,1049.4 185.5,1051.6 186.9,1050.9 188.3,1049.6 189.7,1049.4 191.1,1048.5 192.4,1046.6 193.8,1044.6 195.2,1045.5 196.6,1043.5 198.3,1044.5 200.0,1043.4 201.7,1043.5 203.4,1044.5 205.1,1043.0 206.8,1043.5 208.2,1041.6 209.5,1041.2 210.9,1039.4 212.5,1040.4 214.1,1041.0 215.8,1042.0 217.4,1041.9 219.0,1042.5 220.2,1040.8 221.4,1038.8 222.6,1037.3 223.7,1036.1 224.9,1034.7 226.1,1033.3 227.1,1035.5 228.2,1037.0 229.2,1038.4 230.8,1037.2 232.4,1035.7 234.1,1035.0 235.7,1033.3 237.3,1032.3 238.0,1034.7 238.6,1036.0 239.3,1037.4 240.5,1036.3 241.7,1034.1 242.9,1032.9 244.1,1031.8 245.3,1030.8 246.5,1028.3 247.8,1029.5 249.1,1030.2 250.4,1032.2 251.7,1032.1 253.0,1033.7 254.3,1034.2 255.6,1036.4 256.4,1034.9 257.1,1032.6 257.9,1031.2 258.6,1030.4 259.4,1028.4 260.2,1025.5 260.9,1024.7 261.7,1023.2 263.7,1022.1 265.8,1023.9 267.8,1023.2 269.8,1023.2 271.3,1025.0 272.9,1024.7 274.4,1027.0 275.9,1027.3 276.9,1024.9 277.9,1024.9 278.9,1022.3 280.0,1020.0 281.0,1020.2 282.0,1018.4 283.0,1016.1 284.5,1014.4 286.1,1014.2 287.6,1013.0 289.1,1012.0 290.5,1012.9 291.8,1015.2 293.2,1017.1 294.5,1016.8 295.8,1014.2 297.1,1013.7 298.5,1012.4 299.8,1011.1 301.1,1009.5 302.4,1007.9 304.4,1008.5 306.5,1006.9 308.5,1006.9 309.8,1005.2 311.2,1003.4 312.5,1001.8 314.0,1001.7 315.6,1003.3 317.1,1004.7 318.6,1004.9 319.7,1003.6 320.8,1001.2 321.9,999.9 323.0,998.9 324.1,996.6 325.3,995.4 326.4,995.1 327.5,992.2 328.6,990.7 329.7,989.3 330.8,988.6 332.3,987.4 333.9,985.0 335.4,985.2 336.9,983.5 338.6,985.0 340.3,986.8 342.0,987.6 342.8,986.3 343.6,984.3 344.3,981.9 345.1,980.0 345.8,977.8 346.6,976.7 347.3,973.9 348.1,972.3 348.8,971.6 349.6,969.6 350.3,967.6 352.1,967.6 353.9,969.0 355.6,970.1 357.4,970.7 357.9,968.4 358.4,967.6 358.8,964.8 359.3,963.1 359.8,961.9 360.3,960.0 360.8,959.2 361.2,956.8 361.7,954.8 362.2,954.3 362.7,952.6 363.2,950.7 363.6,947.6 364.1,946.2 364.6,945.0 366.3,945.1 368.0,947.6 369.7,948.1 370.2,946.4 370.7,943.9 371.2,944.1 371.8,940.5 372.3,938.8 372.8,939.0 373.3,936.3 373.8,935.5 374.3,933.3 374.8,930.6 375.3,929.7 375.8,928.7 376.4,925.3 376.9,925.3 377.4,922.7 377.9,921.4 379.6,920.8 381.4,919.7 383.1,919.4 383.7,918.3 384.3,915.8 384.9,914.0 385.4,911.4 386.0,911.1 386.6,908.1 387.2,907.1 387.7,905.6 388.1,902.5 388.6,901.0 389.1,900.4 389.5,897.9 390.0,896.9 390.5,895.4 391.0,892.9 391.4,891.5 391.9,889.5 392.4,887.0 392.8,887.0 393.3,884.5 394.3,883.2 395.4,882.6 396.4,880.7 397.4,879.3 398.5,876.8 399.5,876.3 399.9,874.8 400.4,872.6 400.8,870.5 401.2,868.4 401.7,866.8 402.1,864.8 402.6,864.4 403.0,862.1 403.4,859.7 403.9,858.9 404.3,857.8 404.7,856.2 405.2,852.5 405.6,851.7 406.0,850.2 406.5,848.4 406.9,846.4 407.4,844.4 407.8,842.8 408.3,840.8 408.7,839.2 409.1,836.9 409.6,836.3 410.0,834.9 410.5,833.4 410.9,830.3 411.4,828.3 411.8,827.1 412.4,824.8 413.1,822.5 413.7,822.1 414.4,819.2 415.0,818.2 415.6,817.2 416.3,815.0 416.9,812.8 417.2,811.3 417.5,809.9 417.8,807.8 418.2,806.6 418.5,804.4 418.8,801.8 419.1,799.7 419.4,799.9 419.7,796.3 420.1,795.5 420.4,794.5 420.7,792.7 421.0,790.2 421.6,789.1 422.2,785.9 422.9,784.2 423.5,783.7 424.1,782.0 424.3,779.3 424.5,777.7 424.7,775.9 424.9,775.3 425.1,773.5 425.3,771.6 425.5,770.0 425.7,768.1 425.9,764.7 426.1,763.6 427.0,763.0 427.8,759.8 428.6,758.9 429.5,757.4 430.4,754.4 431.2,753.3 431.6,752.5 432.1,750.0 432.5,748.5 433.0,746.0 433.4,745.0 433.9,742.1 434.3,741.0 434.6,738.6 434.8,737.4 435.1,735.7 435.3,732.8 436.9,731.9 438.4,730.8 439.2,729.3 440.0,726.6 440.9,725.8 441.7,723.6 442.5,722.6 444.1,721.1 445.6,720.5 447.3,721.6 449.0,723.2 450.7,724.6 452.2,725.8 453.8,727.7 454.3,729.8 454.8,730.2 455.3,731.7 455.9,734.8 456.4,736.0 456.9,738.7 457.4,739.6 457.9,741.0 458.6,742.9 459.3,744.6 459.9,745.3 460.6,748.2 461.3,749.4 462.0,751.3 462.3,752.2 462.7,754.0 463.0,755.3 463.4,757.7 463.7,759.6 464.1,761.6 464.4,764.0 464.7,764.0 465.1,765.9 465.4,767.4 465.8,770.0 466.1,771.8 466.7,773.3 467.3,774.0 468.0,776.3 468.6,777.8 469.2,779.3 469.8,781.5 470.4,782.4 471.1,784.2 471.7,786.0 472.3,788.2 472.8,789.4 473.2,791.4 473.7,792.9 474.2,795.3 474.6,796.1 475.1,798.0 475.5,799.1 476.0,802.6 476.5,804.0 476.9,804.1 477.4,806.6 477.7,809.0 478.0,810.4 478.3,812.7 478.6,814.5 478.9,816.0 479.2,817.8 479.4,818.8 479.7,820.4 480.0,822.6 480.3,824.5 480.6,825.7 480.9,828.7 481.2,829.4 481.5,831.2 482.0,832.6 482.5,835.1 483.0,836.1 483.5,837.6 484.1,839.1 484.6,841.6 485.1,842.1 485.6,844.9 486.1,845.6 486.6,847.6 486.9,848.6 487.1,850.3 487.4,852.8 487.6,855.2 487.9,857.4 488.2,857.3 488.4,861.1 488.7,862.0 489.3,863.8 490.0,864.4 490.6,866.9 491.3,868.0 491.9,871.3 492.6,871.8 493.2,872.9 493.9,874.4 494.5,876.7 495.2,878.0 495.8,880.4 496.5,882.0 497.2,883.7 497.9,885.6 498.6,886.7 499.2,888.2 499.9,889.9 500.6,891.5 501.3,892.3 502.0,894.8 502.9,895.6 503.8,897.1 504.7,900.1 505.6,901.7 506.6,901.8 507.5,903.7 508.4,906.9 509.3,908.0 510.2,909.1 510.8,909.8 511.4,912.5 512.0,915.3 512.5,916.6 513.1,917.5 513.7,920.4 514.3,921.4 515.8,922.6 517.2,924.2 518.7,924.8 520.1,924.0 521.6,925.8 523.0,927.2 524.5,927.6 525.4,929.8 526.3,931.2 527.2,932.6 528.0,932.9 528.9,934.8 529.8,935.8 530.7,937.9 532.1,940.3 533.6,941.8 535.0,941.9 536.5,943.3 537.9,945.0 539.2,943.0 540.5,941.1 541.7,939.5 543.0,938.9 544.0,939.5 545.0,942.9 546.1,943.9 547.1,945.0 549.1,943.8 551.2,944.7 553.2,943.0 554.6,943.7 555.9,947.3 557.3,948.1 557.5,945.4 557.8,944.1 558.0,941.7 558.2,940.9 558.5,939.6 558.7,938.2 559.0,935.9 559.2,932.9 559.4,932.1 559.7,931.3 559.9,928.6 560.3,930.7 560.8,931.3 561.2,934.9 561.6,934.5 562.0,938.3 562.5,939.4 562.9,940.3 563.3,942.9 563.8,944.8 564.2,946.0 565.6,945.7 567.1,944.9 568.5,943.3 570.0,942.8 571.4,940.9 572.7,941.5 574.0,942.7 575.2,945.0 576.5,946.0 578.2,945.6 580.0,944.7 581.7,943.0 582.7,941.2 583.7,940.8 584.8,938.6 585.8,936.0 586.8,936.1 587.8,933.7 589.3,932.7 590.7,931.3 592.2,930.7 593.7,928.2 595.2,927.6 596.6,926.3 598.1,925.5 599.0,924.9 599.9,923.3 600.8,920.7 601.7,919.6 602.7,917.3 603.6,915.5 604.5,914.6 605.4,912.4 606.3,911.2 607.0,910.4 607.7,908.2 608.3,906.8 609.0,905.1 609.7,903.4 610.4,900.9 611.4,898.3 612.5,897.5 613.5,895.9 614.5,893.9 615.5,893.6 616.5,892.0 617.6,890.9 618.6,888.6 619.2,886.3 619.8,885.9 620.4,883.4 620.9,882.4 621.5,880.9 622.1,878.7 622.7,876.3 623.2,875.2 623.7,872.2 624.2,871.5 624.7,869.8 625.2,868.8 625.8,866.4 626.3,864.6 626.8,863.3 627.3,860.6 627.8,860.2 628.3,856.6 628.8,855.8 629.3,852.9 629.7,852.1 630.2,850.7 630.6,847.9 631.1,847.7 631.5,843.8 632.0,844.0 632.4,841.5 632.9,839.4 633.3,837.7 633.6,836.3 634.0,834.7 634.4,831.7 634.8,831.0 635.1,830.2 635.5,827.8 635.9,825.2 636.3,823.6 636.6,822.7 637.0,821.0 637.3,819.4 637.7,817.1 638.0,816.4 638.4,814.0 638.7,811.4 639.0,810.4 639.4,808.9 639.7,806.9 640.1,805.0 640.4,803.4 640.8,801.4 641.1,800.5 641.6,799.6 642.1,797.5 642.6,795.9 643.2,793.2 643.7,792.2 644.2,790.6 644.7,788.2 645.2,786.1 645.7,783.4 646.1,782.6 646.6,779.8 647.0,778.1 647.5,776.1 647.9,774.5 648.4,774.1 648.8,770.9 649.3,769.7 649.6,769.0 649.9,765.2 650.2,764.7 650.6,762.2 650.9,762.1 651.2,758.4 651.5,757.9 651.8,755.4 652.1,753.9 652.5,753.1 652.8,750.9 653.1,749.5 653.4,747.2 654.4,745.6 655.5,744.0 656.5,743.1 657.5,741.0 658.2,739.9 658.9,736.6 659.5,735.1 660.2,733.9 660.9,732.0 661.6,730.8 663.7,729.5 665.7,729.4 667.8,729.7 668.8,730.8 669.8,732.4 670.9,735.7 671.9,736.9 672.4,739.7 672.9,739.8 673.4,743.0 674.0,744.9 674.5,746.3 675.0,746.9 675.5,750.3 676.0,751.3 676.5,753.7 676.9,754.7 677.4,755.7 677.8,758.6 678.3,760.8 678.7,762.0 679.2,764.7 679.6,766.3 680.1,767.7 680.8,768.5 681.5,771.5 682.2,773.7 682.8,774.1 683.5,776.8 684.2,777.9 684.5,779.7 684.9,782.0 685.2,784.3 685.6,784.3 685.9,788.1 686.3,789.3 686.6,789.7 687.0,792.5 687.3,794.3 687.8,796.7 688.3,797.8 688.8,799.9 689.3,801.1 689.8,801.8 690.4,805.0 690.9,806.3 691.4,808.0 691.9,808.3 692.4,810.7 692.7,812.1 693.0,814.5 693.3,816.4 693.7,818.6 694.0,819.0 694.3,820.2 694.6,822.6 694.9,824.0 695.2,827.1 695.6,828.4 695.9,830.0 696.2,832.0 696.5,833.3 697.0,834.5 697.4,837.6 697.9,838.7 698.3,841.6 698.8,842.7 699.2,844.4 699.7,845.0 700.1,846.8 700.6,849.7 700.9,851.1 701.2,853.2 701.5,854.1 701.8,856.3 702.1,858.1 702.4,859.6 702.7,862.4 702.9,863.5 703.2,866.4 703.5,867.8 703.8,868.8 704.1,870.3 704.4,872.4 704.7,874.3 705.1,876.3 705.4,878.2 705.8,880.0 706.2,881.8 706.6,883.3 706.9,883.9 707.3,886.0 707.7,887.8 708.1,889.7 708.4,891.0 708.8,892.7 709.2,893.5 709.7,896.5 710.1,897.4 710.5,899.1 711.0,900.4 711.4,903.2 711.8,904.2 712.3,906.4 712.7,909.6 713.2,909.2 713.6,911.0 714.0,913.2 714.5,915.8 714.9,917.3 715.3,919.0 715.6,921.7 716.0,922.2 716.4,924.0 716.8,925.0 717.1,927.8 717.5,929.4 717.9,930.3 718.3,933.1 718.6,934.1 719.0,935.8 719.3,937.3 719.5,939.2 719.8,940.6 720.0,942.7 720.3,943.8 720.5,945.6 720.8,946.7 721.1,948.6 721.3,951.3 721.6,953.6 721.8,955.6 722.1,956.3 723.5,958.8 724.1,960.0 724.7,962.7 725.3,965.0 725.9,966.4 726.4,967.2 727.0,969.7 727.6,972.0 728.2,972.9 729.1,974.1 730.0,976.5 731.0,976.7 731.9,978.5 732.8,981.7 733.7,982.5 734.7,983.1 735.6,984.4 736.5,987.0 737.0,988.0 737.4,990.3 737.9,991.5 738.4,994.0 738.9,994.3 739.3,995.9 739.8,998.5 740.3,999.9 740.7,1000.9 741.2,1003.5 743.5,1002.7 745.9,1003.5 746.5,1004.4 747.2,1006.4 747.8,1009.6 748.4,1011.3 749.1,1012.1 749.7,1013.1 750.4,1015.4 751.0,1017.4 751.6,1017.8 752.3,1021.3 752.9,1022.3 754.2,1023.2 755.5,1024.4 756.7,1025.3 758.0,1027.7 759.3,1028.1 760.6,1030.6 761.9,1031.5 763.2,1032.8 764.4,1034.0 765.7,1034.2 767.0,1036.4 768.4,1036.8 769.8,1039.7 771.3,1039.5 772.7,1041.0 774.1,1042.3 775.3,1040.2 776.5,1038.9 777.6,1037.3 778.8,1036.4 780.2,1038.8 781.6,1038.9 783.0,1040.5 784.4,1041.1 785.8,1043.4 787.1,1044.5 788.5,1045.3 789.8,1047.4 791.2,1048.6 792.5,1049.3 793.9,1051.9 795.2,1052.8 797.2,1053.0 799.1,1051.5 801.1,1052.0 803.1,1051.7 805.0,1051.8 807.0,1051.7 807.9,1054.2 808.9,1055.5 809.8,1056.2 810.8,1058.7 811.7,1059.9 813.5,1058.9 815.2,1058.6 817.0,1057.4 818.7,1055.2 820.3,1056.4 821.8,1056.5 823.4,1057.4 825.0,1059.4 826.5,1060.1 828.1,1059.9 829.3,1058.0 830.5,1056.4 831.7,1057.2 832.9,1060.3 834.0,1061.7 835.2,1063.4 837.2,1062.4 839.1,1061.9 841.0,1063.9 843.0,1061.6 845.0,1062.9 846.9,1062.2 848.5,1062.1 850.0,1061.2 851.6,1059.6 853.2,1057.3 854.7,1056.8 856.3,1056.4 857.9,1056.7 859.4,1058.5 861.0,1059.0 862.6,1058.8 864.1,1060.1 865.7,1061.2 867.3,1060.4 868.8,1061.5 870.4,1062.1 872.0,1062.5 873.5,1063.1 875.1,1064.6 877.0,1064.3 878.9,1064.6 880.8,1063.9 882.7,1065.2 884.6,1064.6 886.2,1064.5 887.7,1062.8 889.3,1061.6 890.9,1061.2 892.4,1059.9 894.0,1059.4 895.6,1059.8 897.1,1060.1 898.7,1060.7 900.3,1063.1 901.8,1062.7 903.4,1063.0 905.0,1063.4 906.5,1065.9 908.1,1065.8 910.0,1066.9 911.9,1067.0 913.7,1066.2 915.6,1066.7 917.5,1068.1 918.9,1067.0 920.3,1066.6 921.7,1065.0 923.1,1063.0 924.5,1062.2 926.1,1062.9 927.6,1064.6 929.2,1065.7 930.8,1066.1 932.3,1068.5 933.9,1069.3 935.1,1066.8 936.3,1067.2 937.4,1064.9 938.6,1062.7 939.8,1061.8 940.7,1063.9 941.5,1065.7 942.4,1066.7 943.3,1069.3 944.6,1069.0 946.0,1067.4 947.3,1065.1 948.7,1064.8 950.0,1063.9 951.4,1061.2 952.7,1061.1 954.4,1060.4 956.1,1062.8 957.8,1061.8 959.4,1061.5 961.1,1062.8 962.8,1062.3 964.5,1063.4 965.7,1066.0 966.9,1067.2 968.0,1067.0 969.2,1069.3 970.1,1067.1 971.1,1066.5 972.0,1065.5 973.0,1064.0 973.9,1062.5 974.8,1060.4 975.8,1057.8 976.7,1057.6 977.7,1054.7 978.6,1054.0 979.5,1056.0 980.5,1057.9 981.4,1058.7 982.4,1060.2 983.3,1062.2 985.0,1063.4 986.8,1064.9 988.5,1065.3 990.3,1066.9 992.0,1066.7 993.7,1066.1 995.4,1065.4 997.0,1065.9 998.7,1064.4 1000.4,1065.4 1002.1,1064.6 1003.9,1065.9 1005.6,1066.2 1007.4,1066.4 1009.2,1065.4 1010.9,1066.2 1012.7,1066.2 1014.4,1067.4 1016.2,1068.1 1017.8,1067.0 1019.3,1067.6 1020.9,1064.7 1022.5,1064.2 1024.0,1063.5 1025.6,1062.8 1027.2,1062.7 1028.7,1061.4 1030.3,1061.1 1031.9,1063.1 1033.4,1063.4 1035.0,1064.4 1036.6,1065.5 1038.1,1065.7 1039.7,1066.1 1041.3,1067.7 1042.8,1068.3 1044.4,1069.3 1046.3,1067.9 1048.2,1068.6 1050.0,1067.6 1051.9,1065.4 1053.8,1065.8 1055.2,1065.6 1056.6,1064.0 1058.1,1062.5 1059.5,1061.9 1060.9,1059.9 1062.4,1060.0 1063.8,1062.9 1065.3,1064.3 1066.8,1065.3 1068.2,1065.7 1069.7,1066.0 1071.1,1068.2 1072.6,1069.3 1074.2,1068.2 1075.7,1068.6 1077.3,1066.9" fill="none" stroke="#000000" stroke-width="5.5" stroke-linejoin="round" stroke-linecap="round"/><polyline points="1103.0,1052.5 1103.9,1049.7 1104.7,1048.8 1105.6,1048.5 1106.5,1048.2 1107.3,1045.3 1108.2,1045.2 1109.7,1044.7 1111.1,1045.8 1112.5,1048.2 1114.0,1048.1 1115.5,1047.7 1116.9,1050.4 1118.3,1050.9 1119.8,1051.1 1121.1,1049.1 1122.4,1049.6 1123.7,1048.5 1124.9,1047.5 1126.2,1048.6 1127.5,1044.8 1128.8,1043.8 1130.1,1044.5 1130.7,1047.3 1131.4,1046.9 1132.0,1047.6 1132.6,1049.4 1133.2,1050.9 1133.9,1054.1 1134.5,1054.0 1135.1,1051.7 1135.8,1050.3 1136.4,1050.1 1137.1,1048.6 1137.7,1048.6 1138.4,1046.8 1139.0,1043.9 1139.7,1042.0 1140.3,1041.6 1141.0,1044.1 1141.8,1046.1 1142.5,1044.4 1143.2,1048.2 1144.0,1050.0 1144.7,1050.3 1145.7,1049.7 1146.6,1047.2 1147.6,1048.0 1148.6,1046.7 1149.5,1043.9 1150.5,1043.8 1151.5,1045.4 1152.5,1045.2 1153.6,1045.8 1154.6,1047.9 1155.6,1049.6 1156.6,1048.0 1157.7,1047.2 1158.7,1047.0 1159.8,1046.6 1160.8,1044.5 1162.3,1045.8 1163.7,1045.7 1165.2,1045.7 1166.6,1044.9 1168.1,1043.8 1169.2,1044.5 1170.3,1045.3 1171.4,1048.0 1172.5,1048.9 1174.0,1049.6 1175.4,1050.6 1176.8,1049.2 1178.3,1051.1 1178.4,1048.6 1178.6,1049.5 1178.7,1047.0 1178.8,1045.8 1178.9,1042.4 1179.1,1041.9 1179.2,1042.1 1179.3,1039.8 1179.5,1039.4 1179.6,1035.4 1179.7,1034.7 1179.9,1034.3 1180.0,1031.7 1180.1,1031.4 1180.2,1029.2 1180.4,1026.3 1180.5,1026.0 1182.0,1025.0 1183.5,1026.5 1183.7,1029.5 1183.8,1028.2 1184.0,1029.8 1184.1,1031.7 1184.3,1034.4 1184.5,1036.3 1184.6,1036.5 1184.8,1038.0 1185.0,1040.4 1185.1,1040.2 1185.3,1041.9 1185.4,1044.1 1185.6,1045.2 1187.0,1046.2 1188.5,1044.8 1190.0,1045.6 1191.4,1047.4 1192.1,1044.9 1192.7,1045.4 1193.4,1043.9 1194.0,1043.4 1194.7,1041.4 1195.3,1038.3 1196.0,1038.6 1196.6,1037.9 1197.3,1035.0 1197.9,1035.8 1198.6,1036.0 1199.2,1038.4 1199.8,1039.3 1200.4,1040.2 1201.1,1041.1 1201.7,1043.8 1202.9,1041.9 1204.1,1043.5 1205.3,1040.2 1206.6,1041.2 1207.8,1039.2 1209.0,1039.4 1210.5,1038.4 1211.9,1040.4 1213.4,1038.8 1214.8,1038.4 1216.3,1039.4 1217.1,1038.0 1218.0,1037.5 1218.8,1035.7 1219.6,1035.5 1220.4,1032.8 1221.3,1031.9 1222.1,1030.6 1223.3,1032.5 1224.5,1032.8 1225.6,1034.8 1226.8,1035.1 1228.0,1036.4 1228.9,1034.1 1229.8,1033.0 1230.7,1034.0 1231.7,1032.8 1232.6,1032.4 1233.5,1030.5 1234.4,1029.0 1235.3,1027.7 1236.5,1025.9 1237.7,1027.4 1238.9,1024.3 1240.2,1024.5 1241.4,1022.9 1242.6,1023.3 1244.0,1022.9 1245.5,1022.7 1247.0,1023.1 1248.4,1023.3 1249.0,1022.6 1249.5,1020.7 1250.0,1018.4 1250.6,1018.7 1251.2,1017.2 1251.7,1016.1 1252.2,1012.2 1252.8,1012.3 1253.9,1014.0 1255.0,1016.2 1256.1,1015.4 1257.2,1017.5 1258.0,1015.3 1258.9,1016.0 1259.7,1013.3 1260.6,1012.2 1261.4,1012.2 1262.3,1009.6 1263.1,1008.7 1263.9,1006.5 1264.8,1005.3 1265.6,1004.4 1266.4,1004.3 1267.2,1002.0 1268.1,1002.0 1268.9,999.9 1270.4,998.2 1271.8,998.4 1273.2,999.2 1274.7,998.5 1275.3,997.2 1276.0,996.0 1276.6,996.1 1277.2,992.8 1277.8,991.2 1278.5,989.5 1279.1,989.7 1280.6,988.9 1282.0,987.6 1283.5,987.4 1285.0,986.8 1285.7,983.9 1286.5,982.6 1287.2,982.6 1287.9,982.5 1288.6,979.7 1289.3,980.4 1290.1,978.0 1290.8,976.5 1291.4,974.7 1292.0,974.5 1292.5,971.3 1293.1,971.0 1293.7,969.2 1295.2,970.9 1296.7,970.4 1298.1,970.3 1299.6,971.4 1300.2,968.7 1300.9,968.9 1301.5,966.3 1302.2,965.5 1302.8,964.6 1303.5,964.5 1304.1,962.3 1304.8,960.4 1305.4,959.0 1306.9,960.5 1308.3,959.1 1309.8,959.8 1311.3,960.5 1312.2,962.1 1313.1,962.8 1314.0,962.8 1315.0,964.5 1315.9,966.9 1316.8,966.1 1317.7,968.0 1318.8,967.7 1319.8,964.7 1320.8,966.7 1321.9,964.9 1323.0,962.8 1324.0,962.4 1324.7,965.2 1325.4,965.8 1326.1,964.6 1326.8,966.4 1327.5,968.4 1328.2,971.3 1328.9,969.7 1329.6,972.1 1330.3,972.1 1331.0,974.3 1331.7,974.8 1332.4,977.4 1333.1,979.2 1333.8,980.5 1335.2,979.8 1336.6,978.4 1338.0,979.1 1338.3,979.0 1338.7,982.9 1339.0,983.1 1339.3,984.6 1339.7,986.0 1340.0,988.1 1340.4,990.2 1340.7,990.3 1342.3,990.9 1344.0,990.1 1345.6,988.9 1346.1,989.8 1346.7,990.6 1347.2,991.8 1347.8,995.6 1348.3,994.5 1348.9,997.5 1349.4,1000.0 1350.0,999.5 1350.5,1001.5 1351.9,1002.0 1353.3,1002.9 1354.7,1005.4 1356.1,1005.4 1357.5,1005.7 1358.3,1008.2 1359.2,1007.0 1360.0,1010.6 1360.9,1011.1 1361.7,1012.7 1363.1,1011.9 1364.5,1012.8 1365.9,1011.3 1366.6,1013.5 1367.3,1015.4 1368.0,1016.3 1368.7,1018.2 1369.4,1018.1 1370.1,1019.7 1370.9,1018.6 1371.8,1018.1 1372.6,1015.8 1373.5,1013.5 1374.3,1013.4 1375.2,1014.7 1376.2,1016.7 1377.1,1017.7 1378.0,1016.4 1379.0,1018.3 1379.9,1019.7 1381.3,1019.5 1382.7,1020.6 1384.1,1023.3 1385.5,1022.2 1386.9,1022.6 1388.3,1023.9 1389.7,1022.3 1391.1,1022.0 1392.5,1021.8 1393.9,1020.4 1395.3,1019.3 1396.7,1018.3 1398.0,1017.8 1399.4,1017.4 1400.8,1017.6 1401.6,1020.2 1402.4,1019.1 1403.2,1022.3 1404.1,1021.5 1404.9,1024.9 1405.7,1025.3 1406.4,1023.3 1407.1,1023.6 1407.8,1021.2 1408.5,1018.8 1409.2,1017.5 1409.9,1018.5 1410.6,1016.2 1411.8,1017.4 1412.9,1018.3 1414.1,1018.9 1415.3,1021.0 1416.4,1021.4 1417.6,1022.5 1418.3,1019.7 1419.0,1020.0 1419.7,1017.7 1420.4,1018.0 1421.1,1015.7 1421.8,1014.1 1422.9,1016.1 1424.0,1015.1 1425.2,1018.1 1426.3,1018.9 1427.4,1019.7 1428.5,1019.7 1429.5,1018.6 1430.6,1016.4 1431.6,1015.3 1432.7,1014.7 1433.7,1012.7 1434.6,1013.1 1435.5,1015.2 1436.4,1017.2 1437.3,1017.8 1438.2,1018.8 1439.1,1021.0 1440.0,1021.1 1441.2,1021.6 1442.4,1018.3 1443.6,1016.7 1444.8,1017.5 1446.0,1015.0 1447.2,1016.6 1448.4,1014.1 1449.8,1013.5 1451.2,1013.2 1452.6,1013.5 1454.0,1013.2 1455.3,1010.3 1456.7,1010.8 1458.1,1009.4 1459.5,1009.9 1460.5,1010.8 1461.6,1010.8 1462.7,1014.3 1463.7,1014.1 1465.1,1012.5 1466.5,1011.4 1467.9,1010.6 1468.1,1013.4 1468.2,1014.6 1468.4,1014.5 1468.6,1016.5 1468.8,1018.6 1469.0,1018.5 1469.1,1019.8 1469.3,1022.5 1469.7,1022.2 1470.1,1018.6 1470.5,1019.0 1470.9,1017.7 1471.3,1015.8 1471.7,1013.6 1472.1,1012.7 1473.5,1013.8 1474.9,1013.6 1476.3,1011.3 1477.7,1014.0 1479.1,1013.1 1480.5,1012.7 1481.9,1012.9 1483.3,1013.4 1484.7,1014.0 1486.1,1016.2 1486.8,1018.5 1487.5,1019.9 1488.2,1019.7 1488.9,1020.4 1489.6,1021.4 1490.3,1023.8 1491.0,1024.7 1491.7,1026.7 1492.6,1024.2 1493.6,1024.0 1494.5,1024.6 1495.4,1021.1 1496.4,1021.1 1497.3,1020.4 1498.7,1021.3 1500.1,1021.1 1501.5,1021.5 1502.9,1023.9 1504.0,1023.6 1505.1,1025.0 1506.3,1028.7 1507.4,1029.5 1508.5,1029.4 1510.1,1030.1 1511.8,1030.7 1513.4,1029.4" fill="none" stroke="#000000" stroke-width="5.6" stroke-linejoin="round" stroke-linecap="round"/><g stroke="#000" stroke-width="6.0" fill="none" stroke-linecap="butt"><line x1="100.6" y1="29.299999999999997" x2="100.6" y2="1191.4"/><line x1="1514.7" y1="29.299999999999997" x2="1514.7" y2="1191.4"/><line x1="100.6" y1="32.3" x2="1078.0" y2="32.3"/><line x1="1103.0" y1="32.3" x2="1514.7" y2="32.3"/><line x1="100.6" y1="1188.4" x2="1078.0" y2="1188.4"/><line x1="1103.0" y1="1188.4" x2="1514.7" y2="1188.4"/></g><g stroke="#000" stroke-width="5.2" fill="none" stroke-linecap="butt"><line x1="100.6" y1="1188.4" x2="100.6" y2="1213.5"/><line x1="589.6" y1="1188.4" x2="589.6" y2="1213.5"/><line x1="1171.5" y1="1188.4" x2="1171.5" y2="1213.5"/><line x1="1514.7" y1="1188.4" x2="1514.7" y2="1213.5"/><line x1="345.3" y1="1188.4" x2="345.3" y2="1202.5"/><line x1="834.5" y1="1188.4" x2="834.5" y2="1202.5"/><line x1="1343.0" y1="1188.4" x2="1343.0" y2="1202.5"/></g><g stroke="#000" stroke-width="4.8" stroke-linecap="round"><line x1="1066.0" y1="55.699999999999996" x2="1090.6" y2="8.899999999999999"/><line x1="1090.6" y1="55.699999999999996" x2="1115.1999999999998" y2="8.899999999999999"/><line x1="1066.0" y1="1211.8000000000002" x2="1090.6" y2="1165.0"/><line x1="1090.6" y1="1211.8000000000002" x2="1115.1999999999998" y2="1165.0"/></g><g transform="matrix(0.9902,0,0,1.0485,46.73,1263.80)" fill="#000"><text font-family="Liberation Sans, Arial, sans-serif" font-weight="bold" font-size="48">1000</text></g><g transform="matrix(0.9902,0,0,1.0394,535.83,1264.00)" fill="#000"><text font-family="Liberation Sans, Arial, sans-serif" font-weight="bold" font-size="48">1500</text></g><g transform="matrix(1.0039,0,0,1.0273,1116.59,1263.40)" fill="#000"><text font-family="Liberation Sans, Arial, sans-serif" font-weight="bold" font-size="48">2500</text></g><g transform="matrix(0.9875,0,0,1.0000,1461.71,1263.00)" fill="#000"><text font-family="Liberation Sans, Arial, sans-serif" font-weight="bold" font-size="48">3000</text></g><g transform="matrix(1.0343,0,0,1.0111,431.43,75.90)" fill="#000"><text font-family="Liberation Serif, Times New Roman, serif" font-size="54">D</text></g><g transform="matrix(1.0429,0,0,1.0278,645.41,77.20)" fill="#000"><text font-family="Liberation Serif, Times New Roman, serif" font-size="54">G</text></g><g transform="matrix(1.0258,0,0,1.0028,1294.75,336.70)" fill="#000"><text font-family="Liberation Serif, Times New Roman, serif" font-size="54">2D</text></g><g transform="matrix(0.9944,0,0,1.0159,547.61,1349.53)" fill="#000"><text font-family="Liberation Serif, Times New Roman, serif" font-weight="bold" font-size="55">Raman shift (cm<tspan font-size="31" dy="-31">-1</tspan><tspan dy="31">)</tspan></text></g><g transform="matrix(0.9960,0,0,1.0150,48.05,802.03)" fill="#000"><text font-family="Liberation Serif, Times New Roman, serif" font-weight="bold" font-size="55" transform="rotate(-90)">Intensity (a.u.)</text></g><g transform="matrix(1.0468,0,0,1.0167,1002.01,119.53)" fill="#000"><text font-family="Liberation Sans, Arial, sans-serif" font-weight="bold" font-size="37">NH<tspan font-size="21" dy="16">3</tspan></text></g><g transform="matrix(1.0472,0,0,1.0143,1001.71,182.47)" fill="#000"><text font-family="Liberation Sans, Arial, sans-serif" font-weight="bold" font-size="37">H<tspan font-size="21" dy="16">2</tspan></text></g><g transform="matrix(1.0737,0,0,1.0238,1000.35,243.82)" fill="#000"><text font-family="Liberation Sans, Arial, sans-serif" font-weight="bold" font-size="37">O<tspan font-size="21" dy="16">2</tspan></text></g><g transform="matrix(1.0413,0,0,0.9765,1001.16,305.69)" fill="#000"><text font-family="Liberation Sans, Arial, sans-serif" font-weight="bold" font-size="37">As-grown</text></g><rect x="883.0" y="75.9" width="303.0" height="240.8" fill="none" stroke="#000" stroke-width="2"/><line x1="898" y1="107.0" x2="993" y2="107.0" stroke="#008000" stroke-width="6.0" stroke-linecap="butt"/><line x1="898" y1="169.1" x2="993" y2="169.1" stroke="#0000ff" stroke-width="6.0" stroke-linecap="butt"/><line x1="898" y1="231.4" x2="993" y2="231.4" stroke="#ff0000" stroke-width="6.0" stroke-linecap="butt"/><line x1="898" y1="293.6" x2="993" y2="293.6" stroke="#000000" stroke-width="6.0" stroke-linecap="butt"/></svg>
</body></html>
